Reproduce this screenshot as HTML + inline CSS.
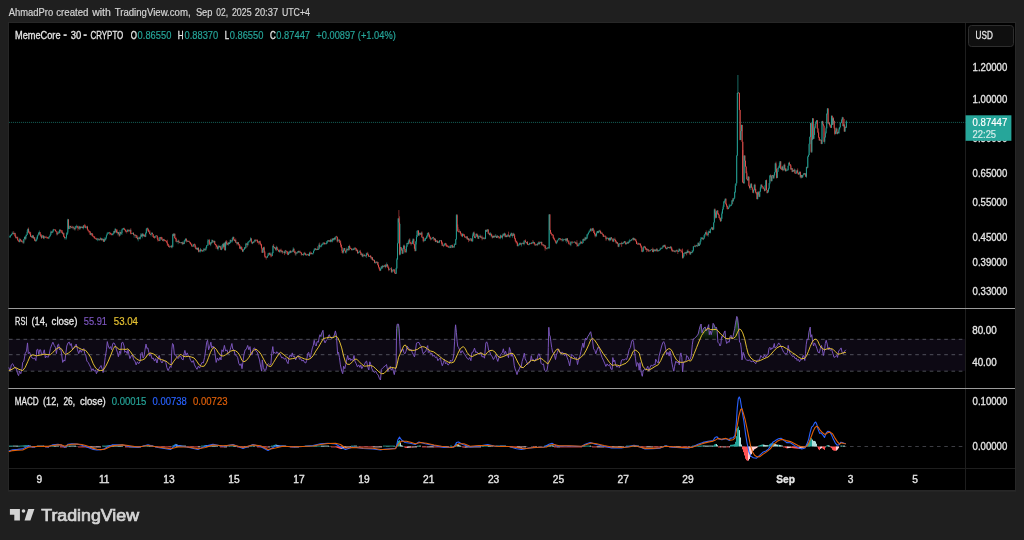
<!DOCTYPE html>
<html><head><meta charset="utf-8"><title>MemeCore chart</title>
<style>
html,body{margin:0;padding:0;background:#1f1f1f;}
body{width:1024px;height:540px;overflow:hidden;position:relative;font-family:"Liberation Sans", sans-serif;}
svg{position:absolute;left:0;top:0;}
text{font-family:"Liberation Sans", sans-serif;}
</style></head><body>
<svg width="1024" height="540" viewBox="0 0 1024 540">
<rect x="0" y="0" width="1024" height="540" fill="#1f1f1f"/>
<rect x="8" y="491" width="1008" height="1" fill="#242424"/>
<rect x="8.5" y="22.5" width="1007" height="468" fill="#000" stroke="#272727" stroke-width="1"/>

<text x="8.75" y="16.4" fill="#d6d6d6" stroke="#d6d6d6" stroke-width="0.18" font-size="10.2" text-anchor="start" font-weight="normal" textLength="44.4" lengthAdjust="spacingAndGlyphs">AhmadPro</text>
<text x="56.25" y="16.4" fill="#d6d6d6" stroke="#d6d6d6" stroke-width="0.18" font-size="10.2" text-anchor="start" font-weight="normal" textLength="32.2" lengthAdjust="spacingAndGlyphs">created</text>
<text x="92.2" y="16.4" fill="#d6d6d6" stroke="#d6d6d6" stroke-width="0.18" font-size="10.2" text-anchor="start" font-weight="normal" textLength="18.7" lengthAdjust="spacingAndGlyphs">with</text>
<text x="114.7" y="16.4" fill="#d6d6d6" stroke="#d6d6d6" stroke-width="0.18" font-size="10.2" text-anchor="start" font-weight="normal" textLength="75.9" lengthAdjust="spacingAndGlyphs">TradingView.com,</text>
<text x="195.9" y="16.4" fill="#d6d6d6" stroke="#d6d6d6" stroke-width="0.18" font-size="10.2" text-anchor="start" font-weight="normal" textLength="16.6" lengthAdjust="spacingAndGlyphs">Sep</text>
<text x="216.25" y="16.4" fill="#d6d6d6" stroke="#d6d6d6" stroke-width="0.18" font-size="10.2" text-anchor="start" font-weight="normal" textLength="11.8" lengthAdjust="spacingAndGlyphs">02,</text>
<text x="231.9" y="16.4" fill="#d6d6d6" stroke="#d6d6d6" stroke-width="0.18" font-size="10.2" text-anchor="start" font-weight="normal" textLength="19.7" lengthAdjust="spacingAndGlyphs">2025</text>
<text x="254.7" y="16.4" fill="#d6d6d6" stroke="#d6d6d6" stroke-width="0.18" font-size="10.2" text-anchor="start" font-weight="normal" textLength="23.4" lengthAdjust="spacingAndGlyphs">20:37</text>
<text x="281.9" y="16.4" fill="#d6d6d6" stroke="#d6d6d6" stroke-width="0.18" font-size="10.2" text-anchor="start" font-weight="normal" textLength="28.1" lengthAdjust="spacingAndGlyphs">UTC+4</text>
<rect x="965" y="23" width="1" height="467" fill="#1e1e1e"/>
<rect x="9" y="468" width="1006" height="1" fill="#1e1e1e"/>
<rect x="8.3" y="308" width="1006.7" height="1" fill="#9b9b9b"/>
<rect x="8.3" y="388" width="1006.7" height="1" fill="#9b9b9b"/>
<line x1="9" y1="122.4" x2="965.5" y2="122.4" stroke="#26a69a" stroke-width="0.9" opacity="0.06"/><line x1="9" y1="122.4" x2="965.5" y2="122.4" stroke="#26a69a" stroke-width="1" stroke-dasharray="1 1" opacity="0.5"/>
<path d="M737.9 75V94" stroke="#26a69a" stroke-width="0.9" opacity="0.7"/><path d="M742.8 150V183" stroke="#ef5350" stroke-width="0.8" opacity="0.8"/><path d="M12.98 232.72V233.21M13.66 231.23V234.61M15.02 232.78V236.60M15.69 234.66V238.39M17.05 236.82V238.76M17.72 236.67V240.48M18.40 239.81V241.52M19.08 240.51V242.27M20.43 238.92V241.25M21.11 240.10V241.80M21.79 239.67V242.32M23.14 240.55V243.59M25.17 236.60V240.31M28.56 227.54V232.55M29.23 230.86V233.68M29.91 232.08V234.70M30.59 231.80V236.94M31.94 235.97V238.16M33.29 235.44V238.61M34.65 236.97V240.81M35.33 239.52V241.39M40.06 232.04V235.54M40.74 234.17V236.94M41.42 234.40V238.90M43.45 235.47V239.00M44.80 236.21V237.40M45.48 236.72V237.70M46.16 235.84V237.48M46.83 237.16V238.62M47.51 237.18V238.43M48.19 236.67V238.54M51.57 231.33V232.67M54.28 229.38V230.15M54.96 229.49V230.58M55.64 229.58V231.43M56.31 231.00V232.13M56.99 231.53V235.46M59.02 232.45V233.53M60.37 229.34V230.70M61.05 229.78V232.77M61.73 231.52V232.78M62.41 230.18V233.98M63.76 232.65V236.97M64.44 236.06V238.50M68.50 219.31V229.39M70.53 225.98V227.25M71.21 225.71V228.27M72.56 225.88V228.36M73.91 226.62V228.56M74.59 228.11V230.31M77.30 225.98V227.69M77.98 225.59V230.65M78.65 227.46V228.64M80.01 226.51V229.70M81.36 226.52V227.69M82.72 226.52V228.25M84.07 225.30V226.25M84.75 223.89V227.93M85.42 225.16V228.00M87.45 225.81V229.83M88.13 229.41V231.37M88.81 230.67V232.65M89.49 230.73V232.40M90.16 231.45V234.78M91.52 233.22V234.82M92.19 232.94V236.08M92.87 234.25V236.95M93.55 235.87V236.75M94.22 236.33V238.39M94.90 236.58V238.82M95.58 237.99V238.65M96.26 237.75V239.64M98.29 238.64V239.69M99.64 239.01V240.45M100.99 237.80V239.46M101.67 238.26V240.67M103.70 239.10V241.91M105.06 238.98V240.68M109.80 231.85V234.84M110.47 232.94V234.02M111.15 233.02V235.31M111.83 234.05V235.28M114.53 230.76V232.93M115.89 228.92V230.76M116.57 230.23V233.13M117.24 229.43V233.39M118.60 232.01V234.16M119.27 233.78V236.82M120.63 231.88V234.24M124.01 227.57V229.23M124.69 228.58V230.24M125.37 229.57V232.34M126.04 229.76V232.08M126.72 230.86V233.43M128.07 229.77V230.65M128.75 229.56V232.18M130.78 228.30V234.33M131.46 232.92V234.08M133.49 232.40V235.23M134.84 234.23V235.91M136.20 234.85V238.17M137.55 235.58V239.60M139.58 237.49V239.14M141.61 234.54V236.52M142.97 233.59V236.17M144.32 234.15V236.71M145.00 235.56V237.17M147.71 227.59V230.92M148.38 228.76V232.43M149.74 230.11V234.26M150.42 233.71V234.92M152.45 232.49V234.38M153.12 234.19V237.07M153.80 235.85V237.87M154.48 236.07V238.57M156.51 235.58V236.08M157.19 235.33V238.96M157.86 237.30V241.51M158.54 239.65V240.46M159.22 239.76V241.18M160.57 236.98V239.40M161.25 236.78V238.95M161.92 237.16V240.01M162.60 239.65V241.00M163.96 238.78V241.36M164.63 239.67V241.01M165.31 239.95V241.17M165.99 240.01V241.73M166.66 241.08V242.73M167.34 239.76V245.70M168.02 243.79V245.52M168.69 244.53V246.99M169.37 245.60V247.54M171.40 244.89V248.06M173.43 233.31V236.28M174.79 233.59V238.47M175.46 237.84V239.06M176.14 237.53V241.74M177.50 240.95V241.89M178.85 240.67V242.38M179.53 242.23V243.07M180.88 242.44V243.14M182.23 242.20V244.61M183.59 242.24V244.09M186.30 238.46V242.55M187.65 240.13V241.77M189.00 240.48V241.98M189.68 241.60V242.90M190.36 242.13V244.26M191.04 243.86V244.53M191.71 243.25V246.84M193.07 245.03V246.54M194.42 243.46V245.07M195.10 243.87V247.58M195.77 245.97V249.36M197.13 247.88V249.76M198.48 247.43V252.31M199.84 250.43V251.65M201.19 249.51V251.00M201.87 250.32V251.45M203.22 249.73V250.94M204.58 248.65V249.93M205.25 249.10V250.70M209.31 238.94V244.80M209.99 243.67V244.70M211.35 242.10V244.19M212.70 240.09V241.82M213.38 241.55V242.20M214.73 240.84V244.56M215.41 243.84V245.28M216.08 244.20V248.84M216.76 244.73V247.26M217.44 246.34V249.42M219.47 245.75V247.24M220.82 245.94V250.02M223.53 243.38V248.47M224.89 242.47V250.50M226.24 240.03V245.55M226.92 241.11V244.71M227.59 243.08V244.72M228.95 242.16V244.17M230.98 240.06V241.33M233.69 236.68V240.26M234.36 239.31V240.94M235.72 238.53V242.88M237.07 241.76V245.33M238.43 242.29V245.27M239.10 243.99V245.67M239.78 244.86V248.79M241.13 246.01V250.28M241.81 247.12V249.85M242.49 249.16V251.91M245.20 247.24V248.98M246.55 243.46V244.75M247.23 243.00V247.25M251.29 238.19V242.29M251.97 242.03V243.62M253.32 241.80V243.10M255.35 239.17V242.09M256.70 239.34V240.35M257.38 239.43V243.12M258.06 241.07V242.66M258.74 241.33V244.59M260.09 240.59V244.60M260.77 243.00V245.60M261.44 244.00V248.68M262.12 247.76V252.84M264.15 246.57V252.83M264.83 250.95V257.64M265.51 256.52V257.33M266.18 255.98V259.54M269.57 252.64V255.35M270.92 252.74V257.32M271.60 255.56V256.66M273.63 244.07V247.37M274.31 246.98V248.79M275.66 247.39V250.48M277.01 246.61V248.69M277.69 248.44V250.10M278.37 249.83V251.50M279.05 250.39V252.18M280.40 249.59V250.93M281.08 248.68V252.81M282.43 250.32V253.72M284.46 251.27V255.10M285.82 249.92V251.19M286.49 251.07V251.75M287.17 251.47V254.13M287.85 250.91V255.25M289.20 252.28V254.09M290.55 250.35V253.03M292.59 250.13V251.41M293.94 248.53V252.02M294.62 251.43V253.12M295.29 250.79V255.37M296.65 252.54V253.75M298.68 250.55V252.45M300.03 250.60V253.21M300.71 251.75V252.83M301.39 252.47V255.63M302.74 253.77V255.15M304.77 251.80V253.61M305.45 253.22V255.34M306.13 253.67V255.52M308.16 253.62V254.77M308.83 254.26V255.94M310.19 251.29V254.82M311.54 252.21V254.40M315.60 248.03V250.12M316.28 249.13V250.19M317.63 246.26V249.95M319.67 242.60V248.21M323.73 242.64V243.86M324.40 242.27V244.54M325.76 243.03V244.27M328.47 240.27V241.81M329.82 240.09V241.67M331.17 238.49V242.23M333.21 238.60V240.07M334.56 237.37V239.40M336.59 235.77V237.45M337.27 236.78V242.47M339.30 239.09V242.84M339.98 240.81V242.77M340.65 240.41V246.73M341.33 244.44V247.99M342.01 247.14V252.93M342.68 250.70V253.58M344.71 248.02V250.78M345.39 250.51V252.79M347.42 248.67V250.06M348.10 248.37V250.72M349.45 244.75V250.29M350.13 246.36V248.91M350.81 247.87V249.07M351.48 248.58V250.41M353.52 248.44V249.77M354.87 247.62V248.66M355.55 247.44V249.60M356.22 248.22V251.41M357.58 249.43V253.70M360.29 249.84V253.29M360.96 252.05V255.15M362.32 253.64V256.53M364.35 253.97V256.30M365.70 255.15V256.44M367.73 251.87V255.12M368.41 254.07V256.80M369.09 256.00V256.70M370.44 255.01V257.30M371.12 255.84V259.08M372.47 256.99V260.17M373.15 259.30V260.75M374.50 260.08V263.01M375.86 261.98V262.90M376.53 261.28V262.94M377.89 261.92V265.63M378.56 264.54V267.49M379.24 266.91V269.46M379.92 268.05V271.14M381.95 265.81V267.64M383.30 265.57V267.29M385.33 264.02V268.30M387.37 264.11V266.89M388.04 265.23V268.08M388.72 267.10V271.17M391.43 267.09V272.70M392.78 269.92V270.53M394.14 269.05V271.90M394.81 269.53V273.69M395.49 273.14V274.02M398.87 210.04V222.64M399.55 216.34V255.37M400.91 246.87V248.66M401.58 247.56V250.86M402.26 249.66V254.05M404.29 244.71V249.23M404.97 249.00V253.20M405.64 250.86V252.24M407.68 242.96V244.06M409.71 238.29V244.07M410.38 242.03V243.49M411.06 241.81V245.50M413.77 238.60V244.60M414.45 243.95V249.05M415.12 247.52V251.54M418.51 230.40V235.66M419.86 232.66V234.06M420.54 233.32V234.87M421.89 231.38V237.53M423.25 236.50V242.32M425.95 237.85V238.69M428.66 232.02V236.49M429.34 234.44V237.16M430.02 236.46V239.11M430.69 236.63V240.41M433.40 236.78V238.25M434.08 237.86V241.05M435.43 238.76V242.06M436.79 240.12V241.38M437.46 240.41V243.08M438.82 241.33V242.80M440.17 240.59V241.41M441.53 239.96V244.08M442.20 241.70V246.18M443.56 244.91V247.17M445.59 242.82V245.45M446.26 243.25V246.83M446.94 245.15V246.79M447.62 244.87V246.63M448.30 245.73V247.92M450.33 246.34V247.95M451.68 244.90V245.44M452.36 244.55V247.68M453.71 246.34V247.57M455.07 243.94V244.72M457.10 214.15V227.68M457.77 224.50V231.48M458.45 231.28V232.07M459.13 229.27V233.02M460.48 231.22V233.93M461.16 232.82V235.79M461.84 235.13V236.50M463.19 233.70V234.61M463.87 233.98V236.05M464.54 234.51V237.57M465.22 236.20V237.70M465.90 237.10V238.26M467.25 236.28V240.01M468.61 238.25V242.15M469.28 239.16V240.56M471.31 238.13V241.44M474.02 231.44V236.64M474.70 236.06V237.99M476.73 233.74V236.12M477.41 233.74V237.34M478.08 236.54V238.93M479.44 235.98V236.51M480.79 235.33V237.77M482.15 235.55V240.28M484.18 236.91V239.53M486.21 229.33V231.85M488.24 229.45V233.73M489.59 232.81V235.10M490.95 233.29V234.61M491.62 234.21V236.79M492.30 235.53V238.55M493.65 235.37V237.56M495.01 234.85V237.13M496.36 235.93V238.00M497.72 235.59V237.56M498.39 236.23V237.58M499.07 236.71V238.81M499.75 236.48V238.47M501.10 235.36V236.65M501.78 235.68V237.82M503.81 233.43V235.88M505.16 233.40V237.39M506.52 234.84V237.30M508.55 231.68V236.71M509.23 235.32V236.99M511.93 233.15V236.20M513.96 233.60V236.08M514.64 234.37V239.10M515.32 237.98V242.09M516.00 240.67V243.34M516.67 240.65V243.49M517.35 242.51V246.28M520.73 242.80V244.89M522.77 242.55V243.54M523.44 242.53V244.24M524.80 240.57V240.92M525.47 239.43V242.13M526.15 241.88V243.45M527.50 241.07V245.06M528.18 243.81V245.04M530.21 242.76V244.09M530.89 243.37V244.22M532.92 240.08V243.85M534.27 242.01V244.38M534.95 243.12V245.91M536.31 243.89V244.59M536.98 244.00V246.12M539.01 241.03V245.11M540.37 242.27V243.00M541.72 241.79V245.41M542.40 244.42V245.70M543.75 244.36V246.90M545.11 245.23V250.67M545.78 246.43V248.60M546.46 248.26V249.28M548.49 247.40V248.26M549.85 214.17V230.24M550.52 229.94V233.80M551.20 232.45V234.33M551.88 233.99V236.01M552.55 234.20V235.27M553.23 234.46V238.42M553.91 237.10V239.40M554.58 238.46V240.35M555.26 240.09V241.99M555.94 240.72V243.46M560.00 238.12V240.63M560.68 238.67V239.63M562.03 238.73V241.44M564.74 238.91V239.71M566.09 238.52V240.85M567.45 237.98V241.89M568.12 240.49V241.57M568.80 240.34V244.49M569.48 243.69V243.97M570.16 243.53V245.22M571.51 241.76V242.20M572.19 240.94V243.80M574.89 241.44V242.84M575.57 242.24V244.10M576.93 240.18V246.74M577.60 244.43V246.16M579.63 243.06V243.70M580.99 241.29V243.15M581.66 241.52V243.58M583.70 238.45V241.06M584.37 239.25V240.40M585.73 237.30V239.44M591.14 227.96V229.77M591.82 229.39V231.76M593.17 227.82V229.94M593.85 229.69V233.18M594.53 231.40V234.68M595.20 232.86V237.36M597.91 230.89V233.05M599.94 229.70V232.45M600.62 230.80V233.85M601.97 232.26V234.15M602.65 233.74V235.25M603.33 233.98V236.96M604.68 235.69V236.56M605.36 235.39V237.50M606.04 236.53V240.82M608.74 237.92V240.70M610.10 237.91V240.36M611.45 237.10V238.74M612.13 238.45V239.51M612.81 239.03V241.74M614.84 237.63V241.74M615.51 239.56V241.67M616.19 240.41V243.68M617.55 242.09V244.09M618.22 243.57V247.12M620.25 243.05V244.71M621.61 241.72V246.80M622.96 242.32V243.30M624.99 240.96V243.00M625.67 242.41V244.62M627.70 241.82V243.68M629.05 241.85V242.49M630.41 240.26V241.13M632.44 238.31V239.14M633.79 237.65V240.79M635.15 238.36V239.69M635.82 238.98V241.60M636.50 240.76V244.09M637.18 243.43V244.19M637.86 242.24V244.93M639.21 243.03V245.11M639.89 243.41V244.97M640.56 243.18V246.46M641.24 245.49V248.23M641.92 246.74V252.07M644.63 245.85V247.78M645.30 246.58V249.73M645.98 248.00V249.87M646.66 248.19V252.17M648.01 248.90V251.50M648.69 249.33V251.94M650.04 250.39V251.63M652.07 248.80V249.87M652.75 247.61V252.13M654.10 249.36V250.98M654.78 249.12V251.57M656.81 247.99V251.60M658.17 250.22V251.72M661.55 247.54V248.42M663.58 244.90V246.95M664.94 244.46V247.51M665.61 246.15V248.51M666.29 248.17V249.38M667.64 246.58V248.21M669.00 246.92V247.87M669.67 247.08V248.47M671.03 246.07V247.99M671.71 247.19V251.28M672.38 249.27V252.02M673.74 250.39V252.04M674.41 250.60V251.69M675.77 250.50V252.15M677.12 249.60V251.44M677.80 250.66V254.04M679.83 248.83V251.17M680.51 250.47V251.06M681.18 250.28V252.93M681.86 249.25V251.76M682.54 248.54V258.57M685.25 252.24V253.60M686.60 252.06V255.35M687.95 249.34V253.32M689.31 251.59V252.80M689.98 251.02V255.02M691.34 251.83V252.95M694.72 244.76V246.76M696.75 244.72V246.37M698.79 242.70V245.82M702.85 237.76V239.81M706.23 230.36V235.83M706.91 234.06V234.82M707.59 232.54V235.92M709.62 231.16V232.95M712.33 227.29V230.08M715.03 208.54V213.24M715.71 212.29V218.64M717.74 210.30V214.72M718.42 213.01V215.16M719.10 214.54V218.31M719.77 217.20V220.10M720.45 217.81V221.97M725.87 198.50V204.72M726.54 203.42V206.82M727.22 205.65V209.27M727.90 208.58V209.26M732.64 198.32V204.36M738.73 92.34V93.28M739.41 92.84V110.08M740.08 109.83V140.28M742.11 124.86V141.83M742.79 141.72V182.25M743.47 181.80V183.39M744.82 155.41V160.88M745.50 160.59V166.70M746.18 166.36V173.30M746.85 171.42V179.40M747.53 179.10V180.43M748.88 176.53V186.54M749.56 185.57V188.79M751.59 183.42V187.80M752.27 186.71V190.23M752.95 189.13V193.06M754.98 183.70V190.18M755.65 188.73V193.29M756.33 192.32V194.40M757.01 192.60V199.30M758.36 191.15V194.66M759.04 194.10V197.03M761.75 184.57V187.11M762.42 186.12V187.12M763.10 186.44V188.94M763.78 188.52V189.34M764.45 188.35V191.44M766.49 179.54V190.04M767.16 189.77V193.57M770.55 174.41V177.40M771.22 176.21V181.24M772.58 175.26V176.04M773.26 175.14V178.82M775.96 161.68V171.70M776.64 168.55V178.52M780.70 161.21V169.12M781.38 168.23V170.06M782.73 165.68V171.23M784.76 163.46V169.86M785.44 168.40V171.27M786.80 169.04V170.19M789.50 161.70V164.81M790.18 164.15V166.05M790.86 164.62V169.83M792.21 168.16V172.20M793.57 169.88V171.78M794.92 169.46V173.91M795.60 172.86V173.57M797.63 168.46V173.68M798.30 172.62V174.62M800.34 171.71V177.96M801.69 174.79V178.10M804.40 172.99V174.35M805.75 173.44V176.88M807.11 166.93V168.71M811.17 122.83V152.80M813.20 118.33V139.40M817.26 120.01V128.69M817.94 128.17V132.73M818.61 131.65V137.99M819.29 136.96V140.60M820.65 139.40V140.20M821.32 139.89V144.16M822.68 120.77V124.62M823.35 123.47V126.31M824.03 125.53V142.18M828.09 108.34V123.84M829.45 122.08V125.28M830.12 124.02V127.26M830.80 125.67V127.75M832.15 115.40V125.00M833.51 117.22V123.59M834.19 120.73V128.75M834.86 127.73V135.19M836.89 128.39V134.20M838.25 131.45V133.19M842.99 116.98V126.24M844.34 118.90V131.70M845.69 126.30V127.99" stroke="#ef5350" fill="none" stroke-width="0.7" opacity="0.75"/><path d="M9.60 236.43V237.66M10.28 234.58V238.04M10.95 235.06V235.85M11.63 234.01V235.57M12.31 231.52V234.47M14.34 232.67V233.82M16.37 236.80V238.17M19.75 237.87V242.38M22.46 241.78V242.37M23.82 238.81V243.68M24.49 236.50V239.28M25.85 234.57V239.62M26.52 234.67V236.30M27.20 230.05V235.18M27.88 228.39V232.65M31.26 235.55V236.87M32.62 235.15V237.69M33.97 237.19V238.57M36.00 239.55V241.70M36.68 237.17V241.00M37.36 235.42V239.56M38.03 234.38V236.35M38.71 232.09V234.80M39.39 230.56V234.18M42.10 235.27V237.88M42.77 235.03V236.32M44.13 235.72V239.23M48.87 236.84V239.08M49.54 235.75V237.21M50.22 233.94V236.54M50.90 230.60V234.81M52.25 231.19V233.19M52.93 229.39V232.90M53.60 228.84V231.17M57.67 233.23V234.60M58.34 230.98V233.64M59.70 229.04V233.30M63.08 232.56V234.99M65.11 237.68V239.70M65.79 236.98V238.40M66.47 232.92V239.46M67.14 231.98V235.20M67.82 218.79V233.80M69.18 227.88V228.90M69.85 225.45V228.83M71.88 227.60V227.84M73.24 226.34V229.61M75.27 225.90V230.36M75.95 225.88V228.42M76.62 224.68V227.42M79.33 225.88V229.63M80.68 226.65V228.48M82.04 226.83V227.93M83.39 225.20V229.39M86.10 227.09V228.73M86.78 226.01V227.83M90.84 233.01V235.34M96.93 238.40V240.27M97.61 238.18V241.21M98.96 238.56V240.94M100.32 237.42V240.29M102.35 238.40V240.19M103.03 238.56V241.38M104.38 237.38V241.84M105.73 237.52V240.58M106.41 235.11V238.79M107.09 232.61V235.41M107.76 231.95V233.96M108.44 232.45V233.75M109.12 232.26V232.81M112.50 233.25V235.20M113.18 233.02V235.25M113.86 230.87V233.92M115.21 227.94V232.68M117.92 231.63V235.36M119.95 230.10V235.67M121.30 232.31V234.33M121.98 228.54V234.97M122.66 228.35V229.83M123.34 227.97V229.98M127.40 229.56V231.87M129.43 229.85V231.17M130.11 229.46V231.74M132.14 233.44V234.03M132.81 232.67V233.88M134.17 234.75V237.67M135.52 234.70V236.08M136.88 237.29V238.36M138.23 237.78V241.33M138.91 236.66V239.30M140.26 236.46V239.55M140.94 233.08V237.06M142.29 233.38V238.31M143.65 234.48V236.57M145.68 232.22V237.07M146.35 228.13V233.50M147.03 227.74V229.52M149.06 231.30V232.10M151.09 233.84V236.43M151.77 232.12V234.45M155.15 236.20V237.88M155.83 235.32V236.51M159.89 236.93V241.03M163.28 239.09V241.42M170.05 246.18V247.34M170.73 245.72V246.84M172.08 245.46V248.35M172.76 233.79V247.33M174.11 233.56V235.97M176.82 241.27V242.67M178.17 239.51V244.18M180.20 242.29V243.41M181.56 242.12V243.04M182.91 241.21V245.17M184.27 240.21V244.14M184.94 239.33V241.64M185.62 238.34V240.92M186.97 240.98V241.57M188.33 240.94V241.98M192.39 245.95V246.98M193.74 244.09V246.63M196.45 247.47V249.28M197.81 247.62V250.31M199.16 249.26V252.38M200.51 247.93V252.43M202.54 250.23V251.53M203.90 248.01V252.07M205.93 246.88V250.71M206.61 245.34V248.54M207.28 244.85V245.48M207.96 239.00V246.01M208.64 240.06V241.45M210.67 241.99V246.17M212.02 239.37V243.17M214.05 240.33V242.80M218.12 246.13V250.46M218.79 244.78V247.90M220.15 245.66V248.03M221.50 248.20V250.22M222.18 244.95V249.41M222.85 243.59V245.88M224.21 242.36V246.92M225.56 241.46V250.44M228.27 242.42V245.70M229.62 241.87V244.13M230.30 239.42V243.18M231.66 240.65V242.45M232.33 237.83V242.42M233.01 236.49V238.55M235.04 239.69V241.56M236.39 242.27V243.28M237.75 242.28V244.13M240.46 246.62V248.98M243.16 249.16V252.15M243.84 248.75V250.24M244.52 247.15V249.76M245.87 242.80V248.46M247.90 241.61V245.83M248.58 241.41V242.67M249.26 240.75V242.38M249.93 239.92V241.30M250.61 237.30V240.54M252.64 241.70V244.22M254.00 240.90V242.61M254.67 239.40V241.38M256.03 240.10V241.06M259.41 241.27V242.47M262.80 248.99V252.86M263.47 246.96V250.18M266.86 257.24V257.88M267.54 255.62V257.56M268.21 253.14V256.21M268.89 252.62V253.67M270.24 252.49V254.74M272.28 252.01V256.17M272.95 245.31V253.34M274.98 247.78V248.73M276.34 245.75V251.17M279.72 249.27V252.75M281.75 250.93V252.00M283.11 252.02V253.16M283.78 251.59V252.22M285.14 250.47V254.05M288.52 251.82V254.97M289.88 250.67V253.50M291.23 251.86V252.50M291.91 250.61V252.40M293.26 247.27V252.29M295.97 252.26V255.54M297.32 252.30V253.48M298.00 250.99V253.02M299.36 251.06V252.47M302.06 253.95V254.70M303.42 253.91V256.06M304.09 252.42V255.06M306.80 254.40V255.70M307.48 254.04V255.25M309.51 252.55V256.20M310.86 253.14V253.96M312.22 253.08V254.29M312.90 252.93V254.77M313.57 250.70V253.27M314.25 248.46V251.31M314.93 248.05V249.99M316.96 248.45V250.19M318.31 248.42V249.90M318.99 243.45V249.41M320.34 246.44V247.01M321.02 245.06V247.44M321.70 243.68V246.70M322.37 244.07V245.00M323.05 242.65V245.12M325.08 242.83V244.29M326.44 241.33V244.33M327.11 240.90V243.57M327.79 240.18V242.15M329.14 240.32V242.09M330.50 239.43V242.26M331.85 240.24V241.72M332.53 238.25V242.27M333.88 237.99V241.23M335.24 236.71V240.12M335.91 236.31V237.39M337.94 238.56V241.37M338.62 239.82V240.30M343.36 249.50V253.53M344.04 248.04V250.65M346.07 251.45V253.70M346.75 247.60V251.87M348.78 245.90V250.49M352.16 248.47V250.17M352.84 249.00V250.55M354.19 247.77V249.98M356.90 249.47V251.16M358.25 251.57V253.60M358.93 251.95V252.83M359.61 250.53V252.20M361.64 253.26V255.61M362.99 253.29V257.32M363.67 254.71V255.90M365.02 255.42V256.53M366.38 252.67V257.93M367.06 253.09V254.19M369.76 255.61V256.93M371.79 257.31V259.90M373.83 259.16V260.46M375.18 261.15V263.98M377.21 261.21V264.07M380.60 268.51V270.72M381.27 266.36V269.25M382.63 265.10V268.87M383.98 266.32V266.73M384.66 264.93V266.54M386.01 266.11V267.33M386.69 262.51V266.31M389.40 269.17V270.24M390.07 268.50V269.35M390.75 268.46V269.08M392.10 268.86V272.85M393.46 269.44V270.40M396.17 267.70V273.84M396.84 258.08V269.00M397.52 242.80V259.90M398.20 218.17V243.40M400.23 223.90V255.20M402.94 247.91V253.85M403.61 244.82V249.00M406.32 245.60V252.87M407.00 242.80V247.14M408.35 241.07V244.57M409.03 239.57V241.55M411.74 243.66V244.11M412.41 240.51V243.96M413.09 238.34V241.57M415.80 240.94V251.13M416.48 235.05V244.39M417.15 230.66V237.21M417.83 230.12V231.41M419.18 232.48V235.77M421.22 232.55V234.47M422.57 237.03V238.32M423.92 240.72V241.75M424.60 238.77V241.13M425.28 237.58V240.83M426.63 235.76V238.87M427.31 233.26V237.71M427.99 232.57V235.18M431.37 238.36V239.60M432.05 238.19V239.36M432.72 237.03V238.59M434.76 237.90V240.11M436.11 240.10V242.34M438.14 241.54V243.11M439.49 240.08V243.15M440.85 240.19V241.07M442.88 244.61V245.82M444.23 243.59V246.21M444.91 243.22V245.01M448.97 246.74V247.52M449.65 245.58V248.18M451.00 245.06V248.19M453.03 245.94V247.57M454.39 243.29V247.89M455.74 239.02V244.89M456.42 214.21V239.82M459.80 230.62V231.83M462.51 233.46V237.16M466.57 236.31V238.67M467.93 238.27V239.94M469.96 238.33V240.64M470.64 238.43V239.02M471.99 240.80V241.60M472.67 233.64V242.08M473.34 232.20V235.80M475.38 236.84V238.48M476.05 233.59V237.04M478.76 234.82V238.82M480.11 234.54V237.11M481.47 236.91V238.08M482.82 238.42V239.10M483.50 237.28V238.81M484.85 238.39V239.13M485.53 229.75V239.17M486.88 229.67V232.03M487.56 229.37V231.49M488.92 233.31V234.60M490.27 232.00V236.42M492.98 235.87V237.84M494.33 235.85V237.69M495.69 234.16V236.90M497.04 235.28V238.06M500.42 234.66V239.20M502.46 234.65V239.28M503.13 233.26V236.54M504.49 232.60V235.79M505.84 235.81V237.06M507.19 234.89V237.08M507.87 234.24V235.71M509.90 235.63V238.03M510.58 233.82V236.02M511.26 232.46V235.05M512.61 234.50V237.78M513.29 232.72V235.66M518.03 244.82V246.62M518.70 244.46V245.36M519.38 242.97V245.47M520.06 242.37V244.06M521.41 243.20V246.50M522.09 242.70V244.27M524.12 240.54V245.32M526.83 242.13V244.13M528.86 244.02V245.48M529.54 242.68V244.84M531.57 242.05V243.98M532.24 242.21V243.42M533.60 241.34V243.11M535.63 244.17V245.89M537.66 243.22V245.58M538.34 242.26V243.93M539.69 242.40V244.22M541.04 241.25V243.17M543.08 244.07V244.84M544.43 245.07V246.04M547.14 247.62V249.37M547.81 247.09V248.21M549.17 214.27V249.02M556.62 242.11V244.17M557.29 240.08V242.63M557.97 239.51V240.63M558.65 237.76V240.11M559.32 238.13V239.02M561.35 238.92V240.05M562.71 238.28V241.26M563.39 239.31V241.37M564.06 239.27V239.99M565.42 238.54V241.50M566.77 238.25V243.19M570.83 241.19V246.20M572.86 241.85V242.62M573.54 242.10V242.61M574.22 241.66V242.38M576.25 242.60V244.12M578.28 244.98V246.62M578.96 243.38V246.04M580.31 240.62V244.41M582.34 242.44V243.83M583.02 238.87V243.16M585.05 236.71V240.69M586.40 237.17V239.39M587.08 234.26V238.77M587.76 233.40V236.35M588.43 232.39V234.63M589.11 230.44V232.73M589.79 229.52V231.94M590.47 228.40V231.12M592.50 228.06V230.74M595.88 234.48V236.38M596.56 232.24V236.75M597.24 230.99V233.23M598.59 230.68V233.26M599.27 230.12V232.10M601.30 232.53V233.86M604.01 235.18V236.79M606.71 238.43V239.23M607.39 237.26V238.82M608.07 237.70V238.61M609.42 237.39V241.31M610.78 237.43V240.77M613.48 238.13V242.14M614.16 239.06V239.58M616.87 241.77V243.24M618.90 243.64V247.17M619.58 243.27V244.28M620.93 243.25V244.07M622.28 242.83V244.29M623.64 242.41V243.61M624.32 241.12V243.25M626.35 242.83V244.33M627.02 241.70V243.84M628.38 240.61V243.59M629.73 238.84V242.35M631.09 240.03V241.05M631.76 238.97V240.76M633.12 237.54V239.50M634.47 238.32V240.22M638.53 243.14V244.57M642.59 250.09V252.26M643.27 246.97V251.73M643.95 245.91V248.05M647.33 248.67V250.46M649.36 250.43V251.52M650.72 249.65V250.73M651.40 249.18V249.98M653.43 248.73V252.38M655.46 249.66V251.26M656.13 249.03V249.88M657.49 248.78V251.45M658.84 249.89V251.36M659.52 249.64V250.86M660.20 247.61V250.30M660.87 247.72V249.51M662.23 247.59V248.88M662.90 245.20V247.68M664.26 244.89V246.51M666.97 247.28V249.41M668.32 246.93V248.17M670.35 246.11V249.07M673.06 249.84V251.56M675.09 250.42V252.55M676.44 249.80V251.21M678.48 250.43V252.02M679.15 248.17V251.92M683.21 255.31V258.44M683.89 252.95V256.99M684.57 252.46V253.52M685.92 251.76V253.79M687.28 250.17V253.10M688.63 251.34V252.44M690.66 252.03V255.02M692.02 250.22V253.31M692.69 250.48V252.49M693.37 246.23V251.31M694.05 246.16V246.57M695.40 245.63V247.30M696.08 245.33V246.51M697.43 245.39V246.84M698.11 242.52V246.21M699.46 243.88V245.90M700.14 241.18V244.75M700.82 237.02V242.29M701.49 237.42V239.11M702.17 237.09V239.46M703.52 238.28V240.12M704.20 235.15V238.77M704.88 233.56V236.87M705.56 232.14V234.37M708.26 230.55V236.76M708.94 230.95V233.05M710.29 228.61V233.43M710.97 228.77V229.40M711.65 226.87V228.93M713.00 228.83V230.22M713.68 222.23V229.67M714.36 208.69V222.51M716.39 210.93V217.90M717.06 210.35V211.42M721.13 217.24V221.52M721.80 211.56V219.10M722.48 208.88V213.75M723.16 205.34V210.11M723.83 201.04V206.94M724.51 200.48V202.97M725.19 198.68V200.80M728.57 207.20V209.03M729.25 203.82V207.48M729.93 204.91V206.25M730.60 205.35V206.47M731.28 204.11V205.92M731.96 200.20V204.17M733.31 198.07V201.61M733.99 197.79V199.63M734.67 191.61V198.75M735.34 184.01V193.11M736.02 183.04V185.81M736.70 155.16V183.48M737.37 92.94V155.78M738.05 92.48V93.23M740.76 130.95V140.05M741.44 124.71V131.08M744.14 155.55V184.00M748.21 176.11V181.13M750.24 185.18V190.05M750.91 183.30V187.21M753.62 189.77V193.30M754.30 184.34V190.71M757.68 191.49V199.38M759.72 191.10V197.28M760.39 186.89V192.06M761.07 184.40V188.73M765.13 185.02V190.99M765.81 180.00V185.63M767.84 191.45V193.01M768.52 187.88V191.83M769.19 182.95V189.26M769.87 175.29V184.28M771.90 175.00V181.22M773.93 174.47V178.94M774.61 171.94V176.25M775.29 162.80V172.48M777.32 171.01V178.02M777.99 167.50V171.92M778.67 166.13V168.99M779.35 162.78V167.94M780.03 160.97V165.68M782.06 166.36V169.82M783.41 168.97V170.49M784.09 164.40V170.79M786.12 168.02V171.28M787.47 169.75V170.81M788.15 165.76V170.65M788.83 162.33V166.00M791.53 167.96V169.46M792.89 169.78V171.94M794.24 168.49V171.42M796.27 170.89V173.99M796.95 169.87V171.66M798.98 172.50V174.59M799.66 171.68V174.42M801.01 175.02V178.62M802.37 174.95V177.66M803.04 174.80V177.28M803.72 173.17V175.36M805.07 173.12V175.27M806.43 166.62V177.83M807.78 155.84V167.86M808.46 154.63V156.99M809.14 143.51V155.37M809.81 136.42V144.28M810.49 122.80V137.30M811.84 138.06V152.91M812.52 118.08V140.12M813.88 134.55V139.02M814.55 126.45V135.03M815.23 123.48V128.45M815.91 120.97V124.22M816.58 120.31V122.74M819.97 139.51V140.92M822.00 120.94V144.15M824.71 137.20V143.72M825.38 131.39V137.73M826.06 127.32V133.78M826.74 113.52V128.55M827.42 108.24V114.63M828.77 122.14V124.08M831.48 115.48V127.92M832.83 118.01V125.02M835.54 130.71V133.93M836.22 127.40V131.51M837.57 131.92V134.32M838.92 127.75V134.02M839.60 126.87V129.61M840.28 122.66V127.54M840.96 122.09V122.99M841.63 119.23V123.32M842.31 116.76V119.65M843.66 123.82V126.82M845.02 127.05V131.79M846.37 120.13V127.78" stroke="#26a69a" fill="none" stroke-width="0.7" opacity="0.75"/><path d="M12.98 232.94V233.29M13.66 233.01V233.77M15.02 233.03V236.18M15.69 236.18V237.53M17.05 237.01V238.38M17.72 238.38V240.34M18.40 240.34V240.73M19.08 240.73V241.89M20.43 239.28V240.45M21.11 240.45V241.24M21.79 241.24V241.96M23.14 241.81V242.50M25.17 237.06V238.68M28.56 229.01V232.45M29.23 232.45V232.80M29.91 232.53V233.81M30.59 233.81V236.54M31.94 236.09V237.53M33.29 235.47V238.25M34.65 237.52V240.52M35.33 240.52V241.16M40.06 232.25V234.81M40.74 234.81V235.75M41.42 235.75V237.74M43.45 235.78V238.12M44.80 236.79V237.14M45.48 236.99V237.34M46.16 237.23V237.58M46.83 237.48V237.83M47.51 237.68V238.08M48.19 238.08V238.43M51.57 231.77V232.62M54.28 229.53V229.88M54.96 229.69V230.04M55.64 229.75V231.33M56.31 231.33V231.82M56.99 231.82V234.31M59.02 232.72V233.07M60.37 229.99V230.34M61.05 230.09V231.58M61.73 231.58V232.33M62.41 232.33V233.47M63.76 233.21V236.71M64.44 236.71V238.00M68.50 219.43V228.84M70.53 225.99V227.01M71.21 227.01V227.82M72.56 227.71V228.06M73.91 227.42V228.19M74.59 228.19V228.92M77.30 226.28V226.63M77.98 226.38V228.16M78.65 228.16V228.51M80.01 226.61V228.20M81.36 226.81V227.44M82.72 226.90V228.16M84.07 225.70V226.05M84.75 225.76V226.48M85.42 226.48V227.65M87.45 226.66V229.61M88.13 229.61V230.87M88.81 230.87V231.22M89.49 231.04V231.48M90.16 231.48V234.66M91.52 233.28V233.63M92.19 233.47V235.93M92.87 235.93V236.28M93.55 236.23V236.58M94.22 236.52V238.10M94.90 238.10V238.45M95.58 238.30V238.65M96.26 238.52V239.64M98.29 238.74V239.60M99.64 239.08V239.68M100.99 238.34V238.85M101.67 238.85V240.12M103.70 239.14V241.67M105.06 239.40V239.75M109.80 232.43V233.44M110.47 233.44V233.79M111.15 233.62V234.64M111.83 234.64V234.99M114.53 231.17V232.39M115.89 228.98V230.42M116.57 230.42V232.23M117.24 232.23V233.14M118.60 232.15V234.12M119.27 234.12V235.57M120.63 232.05V233.52M124.01 228.23V228.93M124.69 228.93V230.03M125.37 230.03V230.86M126.04 230.86V231.21M126.72 231.02V231.73M128.07 229.80V230.20M128.75 230.20V231.15M130.78 229.86V233.74M131.46 233.74V234.09M133.49 232.83V234.84M134.84 234.77V235.40M136.20 235.07V237.94M137.55 237.73V239.09M139.58 237.59V238.70M141.61 234.63V236.44M142.97 233.70V235.82M144.32 234.88V235.96M145.00 235.96V236.67M147.71 228.38V229.51M148.38 229.51V231.75M149.74 231.58V234.04M150.42 234.04V234.53M152.45 233.11V234.21M153.12 234.21V236.86M153.80 236.86V237.72M154.48 237.72V238.07M156.51 235.69V236.04M157.19 235.92V237.63M157.86 237.63V240.12M158.54 240.12V240.47M159.22 240.36V240.74M160.57 237.11V237.52M161.25 237.52V237.87M161.92 237.52V239.69M162.60 239.69V240.50M163.96 239.28V240.12M164.63 240.12V240.50M165.31 240.50V240.96M165.99 240.96V241.31M166.66 241.23V242.47M167.34 242.47V243.85M168.02 243.85V245.46M168.69 245.46V246.78M169.37 246.78V247.23M171.40 246.18V247.05M173.43 234.40V235.67M174.79 233.77V238.13M175.46 238.13V238.71M176.14 238.71V241.72M177.50 241.42V241.77M178.85 240.69V242.27M179.53 242.27V242.78M180.88 242.47V242.86M182.23 242.22V243.92M183.59 243.09V243.82M186.30 238.74V241.26M187.65 241.12V241.66M189.00 241.31V241.90M189.68 241.90V242.38M190.36 242.38V244.18M191.04 244.18V244.53M191.71 244.24V246.11M193.07 245.98V246.33M194.42 244.22V244.75M195.10 244.75V247.41M195.77 247.41V248.73M197.13 248.02V249.65M198.48 247.81V251.58M199.84 250.56V251.14M201.19 249.53V250.74M201.87 250.74V251.38M203.22 250.37V250.72M204.58 248.92V249.42M205.25 249.42V249.83M209.31 240.21V243.92M209.99 243.92V244.54M211.35 242.55V243.06M212.70 240.17V241.60M213.38 241.60V242.16M214.73 241.04V243.90M215.41 243.90V244.98M216.08 244.98V245.49M216.76 245.49V246.77M217.44 246.77V248.87M219.47 246.14V247.09M220.82 246.56V249.59M223.53 243.92V246.74M224.89 243.25V250.19M226.24 241.69V243.29M226.92 243.29V243.95M227.59 243.95V244.50M228.95 242.76V243.92M230.98 240.16V241.26M233.69 237.10V239.45M234.36 239.45V240.75M235.72 240.12V242.54M237.07 242.46V243.72M238.43 242.32V244.07M239.10 244.07V245.38M239.78 245.38V248.59M241.13 246.94V247.35M241.81 247.35V249.45M242.49 249.45V251.38M245.20 247.47V247.83M246.55 243.73V244.17M247.23 244.17V244.96M251.29 238.50V242.21M251.97 242.21V243.41M253.32 241.89V242.51M255.35 240.25V240.74M256.70 240.15V240.50M257.38 240.17V241.72M258.06 241.72V242.26M258.74 242.26V242.61M260.09 241.37V244.19M260.77 244.19V244.54M261.44 244.52V247.84M262.12 247.84V252.69M264.15 247.44V252.29M264.83 252.29V256.57M265.51 256.57V257.24M266.18 257.24V257.76M269.57 253.11V254.54M270.92 254.02V255.73M271.60 255.73V256.08M273.63 245.86V247.10M274.31 247.10V248.01M275.66 247.90V249.62M277.01 247.20V248.67M277.69 248.67V249.86M278.37 249.86V251.07M279.05 251.07V252.04M280.40 249.95V250.30M281.08 250.09V251.66M282.43 251.21V252.20M284.46 251.81V253.07M285.82 250.55V251.12M286.49 251.12V251.65M287.17 251.65V253.73M287.85 253.73V254.71M289.20 252.68V253.03M290.55 250.91V252.37M292.59 250.93V251.28M293.94 248.76V251.66M294.62 251.66V252.49M295.29 252.49V253.42M296.65 252.63V253.19M298.68 251.14V252.20M300.03 251.71V252.23M300.71 252.23V252.65M301.39 252.65V254.46M302.74 254.06V254.85M304.77 252.93V253.61M305.45 253.61V254.66M306.13 254.66V255.18M308.16 254.09V254.44M308.83 254.30V255.82M310.19 252.63V253.71M311.54 253.17V254.04M315.60 248.81V249.37M316.28 249.37V249.89M317.63 248.98V249.77M319.67 244.84V246.80M323.73 242.71V243.06M324.40 242.94V244.14M325.76 243.70V244.06M328.47 240.38V240.79M329.82 240.50V241.54M331.17 239.76V241.34M333.21 238.75V239.71M334.56 238.02V239.34M336.59 236.59V236.94M337.27 236.78V241.36M339.30 240.09V241.27M339.98 241.27V242.66M340.65 242.66V244.94M341.33 244.94V247.59M342.01 247.59V250.84M342.68 250.84V252.46M344.71 248.07V250.63M345.39 250.63V252.52M347.42 249.19V249.76M348.10 249.76V250.11M349.45 246.06V247.85M350.13 247.85V248.20M350.81 248.12V248.84M351.48 248.84V249.80M353.52 249.12V249.66M354.87 247.82V248.17M355.55 248.07V248.47M356.22 248.47V250.77M357.58 250.14V253.17M360.29 251.46V252.81M360.96 252.81V254.91M362.32 254.18V256.52M364.35 255.07V255.96M365.70 255.93V256.28M367.73 253.40V254.73M368.41 254.73V256.26M369.09 256.26V256.65M370.44 255.89V256.90M371.12 256.90V258.19M372.47 257.43V259.81M373.15 259.81V260.38M374.50 260.19V262.69M375.86 262.15V262.50M376.53 262.29V262.64M377.89 262.02V265.00M378.56 265.00V267.32M379.24 267.32V268.73M379.92 268.73V270.60M381.95 266.62V267.43M383.30 265.82V266.73M385.33 265.31V266.85M387.37 264.45V266.38M388.04 266.38V267.80M388.72 267.80V269.78M391.43 268.55V271.79M392.78 270.18V270.53M394.14 269.61V271.80M394.81 271.80V273.22M395.49 273.22V273.78M398.87 218.52V222.39M399.55 222.39V254.44M400.91 247.01V248.51M401.58 248.51V249.82M402.26 249.82V253.47M404.29 245.81V249.04M404.97 249.04V251.67M405.64 251.67V252.02M407.68 243.19V243.91M409.71 239.64V242.52M410.38 242.52V242.87M411.06 242.69V244.10M413.77 239.17V244.29M414.45 244.29V248.55M415.12 248.55V250.88M418.51 230.60V235.36M419.86 233.14V233.64M420.54 233.64V234.45M421.89 232.64V237.39M423.25 237.20V240.98M425.95 238.13V238.48M428.66 232.87V234.60M429.34 234.60V237.10M430.02 237.10V238.36M430.69 238.36V239.23M433.40 237.30V238.07M434.08 238.07V239.75M435.43 238.80V241.93M436.79 240.85V241.20M437.46 241.08V242.69M438.82 241.69V242.31M440.17 240.64V240.99M441.53 240.53V242.60M442.20 242.60V245.60M443.56 245.37V245.72M445.59 243.49V244.41M446.26 244.41V245.99M446.94 245.99V246.34M447.62 246.04V246.39M448.30 246.28V247.30M450.33 246.84V247.62M451.68 245.07V245.42M452.36 245.36V247.48M453.71 246.35V246.70M455.07 244.35V244.70M457.10 215.18V227.19M457.77 227.19V231.43M458.45 231.43V231.78M459.13 231.56V231.91M460.48 231.53V233.45M461.16 233.45V235.29M461.84 235.29V236.33M463.19 233.89V234.34M463.87 234.34V235.72M464.54 235.72V236.62M465.22 236.62V237.15M465.90 237.15V237.61M467.25 236.59V239.03M468.61 238.48V240.03M469.28 240.03V240.39M471.31 238.77V241.06M474.02 232.62V236.17M474.70 236.17V237.91M476.73 233.81V234.98M477.41 234.98V236.82M478.08 236.82V238.59M479.44 236.06V236.47M480.79 235.99V237.69M482.15 237.36V238.69M484.18 238.43V239.02M486.21 230.17V231.50M488.24 229.49V233.63M489.59 233.40V235.08M490.95 233.55V234.39M491.62 234.39V236.20M492.30 236.20V237.62M493.65 236.03V237.23M495.01 236.29V236.81M496.36 236.52V237.91M497.72 235.79V236.37M498.39 236.37V237.03M499.07 237.03V237.44M499.75 237.44V237.93M501.10 235.56V236.39M501.78 236.39V237.51M503.81 234.28V234.92M505.16 233.63V236.79M506.52 236.06V236.82M508.55 234.85V235.42M509.23 235.42V236.69M511.93 233.22V236.09M513.96 233.73V235.74M514.64 235.74V238.47M515.32 238.47V240.97M516.00 240.97V241.42M516.67 241.42V242.52M517.35 242.52V245.89M520.73 243.36V244.46M522.77 243.14V243.49M523.44 243.33V244.08M524.80 240.66V241.01M525.47 240.72V241.92M526.15 241.92V242.90M527.50 242.22V244.33M528.18 244.33V244.75M530.21 243.31V243.77M530.89 243.77V244.12M532.92 242.56V243.07M534.27 242.16V244.29M534.95 244.29V244.64M536.31 244.18V244.53M536.98 244.40V244.95M539.01 242.62V243.94M540.37 242.42V242.77M541.72 242.00V244.49M542.40 244.49V244.84M543.75 244.71V245.74M545.11 245.36V248.14M545.78 248.14V248.49M546.46 248.42V248.78M548.49 247.74V248.19M549.85 214.50V230.05M550.52 230.05V232.71M551.20 232.71V234.05M551.88 234.05V234.79M552.55 234.79V235.18M553.23 235.18V237.92M553.91 237.92V239.35M554.58 239.35V240.33M555.26 240.33V240.87M555.94 240.87V243.25M560.00 238.31V239.28M560.68 239.28V239.63M562.03 239.50V240.29M564.74 239.34V239.69M566.09 238.86V240.50M567.45 238.55V240.77M568.12 240.77V241.48M568.80 241.48V243.77M569.48 243.77V244.12M570.16 243.93V244.49M571.51 241.93V242.28M572.19 242.01V242.36M574.89 241.75V242.54M575.57 242.54V243.34M576.93 242.66V244.69M577.60 244.69V245.74M579.63 243.44V243.79M580.99 242.07V242.42M581.66 242.21V243.35M583.70 239.22V239.83M584.37 239.83V240.35M585.73 237.66V239.12M591.14 228.93V229.75M591.82 229.75V230.68M593.17 228.53V229.78M593.85 229.78V232.89M594.53 232.89V234.04M595.20 234.04V236.08M597.91 231.03V232.67M599.94 230.71V231.21M600.62 231.21V233.23M601.97 232.77V233.83M602.65 233.83V234.52M603.33 234.52V236.72M604.68 236.28V236.63M605.36 236.32V236.68M606.04 236.68V239.21M608.74 237.97V240.06M610.10 238.07V240.14M611.45 237.46V238.55M612.13 238.55V239.48M612.81 239.48V241.41M614.84 239.22V240.13M615.51 240.13V241.26M616.19 241.26V243.17M617.55 242.36V243.78M618.22 243.78V246.56M620.25 243.58V243.93M621.61 243.46V243.99M622.96 243.02V243.37M624.99 241.20V242.65M625.67 242.65V244.18M627.70 242.58V243.35M629.05 242.02V242.37M630.41 240.35V240.70M632.44 239.09V239.44M633.79 238.00V239.93M635.15 238.96V239.47M635.82 239.47V241.16M636.50 241.16V243.83M637.18 243.83V244.18M637.86 243.98V244.33M639.21 243.51V243.93M639.89 243.93V244.28M640.56 244.14V245.64M641.24 245.64V247.68M641.92 247.68V251.60M644.63 246.41V246.84M645.30 246.84V248.45M645.98 248.45V249.24M646.66 249.24V250.04M648.01 249.44V250.57M648.69 250.57V251.06M650.04 250.61V250.96M652.07 249.39V249.86M652.75 249.86V251.91M654.10 249.80V250.28M654.78 250.28V251.08M656.81 249.31V251.13M658.17 250.49V250.89M661.55 248.12V248.47M663.58 246.07V246.42M664.94 245.11V246.84M665.61 246.84V248.29M666.29 248.29V249.07M667.64 247.86V248.21M669.00 246.98V247.78M669.67 247.78V248.13M671.03 246.86V247.93M671.71 247.93V250.21M672.38 250.21V251.06M673.74 250.69V251.04M674.41 250.93V251.61M675.77 250.84V251.20M677.12 250.39V251.38M677.80 251.38V251.78M679.83 249.09V250.70M680.51 250.70V251.05M681.18 250.95V251.30M681.86 251.28V251.63M682.54 251.63V257.75M685.25 252.77V253.43M686.60 252.10V252.88M687.95 250.84V252.42M689.31 251.61V251.96M689.98 251.88V253.85M691.34 252.04V252.74M694.72 246.37V246.72M696.75 245.43V246.15M698.79 242.86V245.73M702.85 237.84V239.13M706.23 232.28V234.21M706.91 234.21V234.56M707.59 234.48V234.83M709.62 231.47V232.76M712.33 227.48V229.75M715.03 209.57V212.72M715.71 212.72V217.69M717.74 210.53V213.77M718.42 213.77V214.75M719.10 214.75V217.91M719.77 217.91V218.33M720.45 218.33V221.08M725.87 198.75V203.98M726.54 203.98V205.78M727.22 205.78V208.83M727.90 208.83V209.18M732.64 200.39V201.23M738.73 92.65V93.03M739.41 93.03V109.94M740.08 109.94V139.96M742.11 124.93V141.77M742.79 141.77V181.96M743.47 181.96V183.12M744.82 155.60V160.75M745.50 160.75V166.64M746.18 166.64V173.22M746.85 173.22V179.30M747.53 179.30V180.25M748.88 176.75V185.88M749.56 185.88V188.02M751.59 183.78V187.68M752.27 187.68V189.73M752.95 189.73V192.62M754.98 184.83V189.08M755.65 189.08V192.33M756.33 192.33V193.24M757.01 193.24V199.10M758.36 192.22V194.57M759.04 194.57V196.66M761.75 184.70V186.37M762.42 186.37V186.80M763.10 186.80V188.63M763.78 188.63V188.98M764.45 188.93V190.75M766.49 180.25V189.93M767.16 189.93V192.98M770.55 175.45V176.49M771.22 176.49V181.19M772.58 175.32V175.87M773.26 175.87V177.87M775.96 163.44V168.69M776.64 168.69V177.87M780.70 161.49V168.80M781.38 168.80V169.35M782.73 166.68V170.05M784.76 164.80V168.60M785.44 168.60V171.24M786.80 169.94V170.29M789.50 162.77V164.28M790.18 164.28V165.66M790.86 165.66V169.45M792.21 168.26V171.80M793.57 170.25V170.93M794.92 169.72V173.02M795.60 173.02V173.37M797.63 170.43V172.77M798.30 172.77V174.45M800.34 171.78V176.80M801.69 175.04V177.49M804.40 173.51V174.29M805.75 173.46V176.68M807.11 167.09V167.62M811.17 123.21V151.77M813.20 118.36V138.65M817.26 120.37V128.60M817.94 128.60V132.62M818.61 132.62V137.27M819.29 137.27V140.44M820.65 139.84V140.19M821.32 140.00V143.95M822.68 121.20V124.26M823.35 124.26V125.74M824.03 125.74V141.71M828.09 108.48V123.29M829.45 123.05V124.98M830.12 124.98V126.40M830.80 126.40V127.75M832.15 115.90V124.79M833.51 118.32V120.87M834.19 120.87V127.88M834.86 127.88V133.90M836.89 128.59V133.80M838.25 132.13V132.92M842.99 117.51V125.94M844.34 124.55V131.54M845.69 127.23V127.63" stroke="#ef5350" fill="none" stroke-width="0.9"/><path d="M9.60 236.97V236.62M10.28 236.97V235.52M10.95 235.52V235.17M11.63 235.25V234.12M12.31 234.12V232.94M14.34 233.77V233.03M16.37 237.53V237.01M19.75 241.89V239.28M22.46 241.96V241.61M23.82 242.50V239.12M24.49 239.12V237.06M25.85 238.68V235.84M26.52 235.84V234.84M27.20 234.84V231.92M27.88 231.92V229.01M31.26 236.54V236.09M32.62 237.53V235.47M33.97 238.25V237.52M36.00 241.16V239.60M36.68 239.60V238.67M37.36 238.67V235.62M38.03 235.62V234.70M38.71 234.70V232.83M39.39 232.83V232.25M42.10 237.74V235.98M42.77 235.98V235.63M44.13 238.12V236.79M48.87 238.29V236.86M49.54 236.86V236.23M50.22 236.23V234.70M50.90 234.70V231.77M52.25 232.62V231.96M52.93 231.96V230.59M53.60 230.59V229.53M57.67 234.31V233.32M58.34 233.32V232.72M59.70 232.94V229.99M63.08 233.47V233.12M65.11 238.00V237.65M65.79 237.95V237.53M66.47 237.53V234.59M67.14 234.59V232.48M67.82 232.48V219.43M69.18 228.84V228.49M69.85 228.72V225.99M71.88 227.82V227.47M73.24 227.83V227.42M75.27 228.92V228.36M75.95 228.36V226.37M76.62 226.37V226.02M79.33 228.44V226.61M80.68 228.20V226.81M82.04 227.44V226.90M83.39 228.16V225.70M86.10 227.65V227.24M86.78 227.24V226.66M90.84 234.66V233.28M96.93 239.64V239.29M97.61 239.30V238.74M98.96 239.60V239.08M100.32 239.68V238.34M102.35 240.12V239.20M103.03 239.20V238.85M104.38 241.67V239.40M105.73 239.64V237.64M106.41 237.64V235.35M107.09 235.35V233.84M107.76 233.84V233.33M108.44 233.33V232.69M109.12 232.69V232.34M112.50 234.84V234.17M113.18 234.17V233.66M113.86 233.66V231.17M115.21 232.39V228.98M117.92 233.14V232.15M119.95 235.57V232.05M121.30 233.52V232.95M121.98 232.95V229.67M122.66 229.67V229.13M123.34 229.13V228.23M127.40 231.73V229.80M129.43 231.15V230.77M130.11 230.77V229.86M132.14 233.90V233.55M132.81 233.76V232.83M134.17 234.84V234.49M135.52 235.40V235.05M136.88 237.94V237.59M138.23 239.09V238.41M138.91 238.41V237.59M140.26 238.70V236.64M140.94 236.64V234.63M142.29 236.44V233.70M143.65 235.82V234.88M145.68 236.67V233.12M146.35 233.12V229.09M147.03 229.09V228.38M149.06 231.75V231.40M151.09 234.53V234.05M151.77 234.05V233.11M155.15 237.79V236.21M155.83 236.21V235.69M159.89 240.74V237.11M163.28 240.50V239.28M170.05 247.23V246.53M170.73 246.53V246.18M172.08 247.05V246.70M172.76 246.81V234.40M174.11 235.67V233.77M176.82 241.72V241.37M178.17 241.65V240.69M180.20 242.78V242.43M181.56 242.86V242.22M182.91 243.92V243.09M184.27 243.82V241.57M184.94 241.57V240.31M185.62 240.31V238.74M186.97 241.26V240.91M188.33 241.66V241.31M192.39 246.11V245.76M193.74 246.28V244.22M196.45 248.73V248.02M197.81 249.65V247.81M199.16 251.58V250.56M200.51 251.14V249.53M202.54 251.38V250.37M203.90 250.63V248.92M205.93 249.83V247.84M206.61 247.84V245.35M207.28 245.35V245.00M207.96 245.26V240.45M208.64 240.45V240.10M210.67 244.54V242.55M212.02 243.06V240.17M214.05 242.16V241.04M218.12 248.87V246.92M218.79 246.92V246.14M220.15 247.09V246.56M221.50 249.59V248.59M222.18 248.59V245.18M222.85 245.18V243.92M224.21 246.74V243.25M225.56 250.19V241.69M228.27 244.50V242.76M229.62 243.92V242.82M230.30 242.82V240.16M231.66 241.26V240.91M232.33 240.96V238.10M233.01 238.10V237.10M235.04 240.75V240.12M236.39 242.54V242.19M237.75 243.72V242.32M240.46 248.59V246.94M243.16 251.38V249.76M243.84 249.76V249.36M244.52 249.36V247.47M245.87 247.83V243.73M247.90 244.96V242.27M248.58 242.27V241.61M249.26 241.61V241.17M249.93 241.17V240.33M250.61 240.33V238.50M252.64 243.41V241.89M254.00 242.51V241.20M254.67 241.20V240.25M256.03 240.74V240.15M259.41 242.37V241.37M262.80 252.69V249.69M263.47 249.69V247.44M266.86 257.76V257.41M267.54 257.49V255.83M268.21 255.83V253.38M268.89 253.38V253.03M270.24 254.54V254.02M272.28 255.93V253.01M272.95 253.01V245.86M274.98 248.01V247.66M276.34 249.62V247.20M279.72 252.04V249.95M281.75 251.66V251.21M283.11 252.20V251.85M283.78 252.14V251.79M285.14 253.07V250.55M288.52 254.71V252.68M289.88 253.03V250.91M291.23 252.37V252.02M291.91 252.12V250.93M293.26 251.06V248.76M295.97 253.42V252.63M297.32 253.19V252.60M298.00 252.60V251.14M299.36 252.20V251.71M302.06 254.46V254.06M303.42 254.85V254.50M304.09 254.68V252.93M306.80 255.18V254.49M307.48 254.49V254.09M309.51 255.82V252.63M310.86 253.71V253.17M312.22 254.04V253.37M312.90 253.37V253.02M313.57 253.20V250.81M314.25 250.81V249.46M314.93 249.46V248.81M316.96 249.89V248.98M318.31 249.77V248.92M318.99 248.92V244.84M320.34 246.80V246.45M321.02 246.62V245.77M321.70 245.77V244.73M322.37 244.73V244.29M323.05 244.29V242.71M325.08 244.14V243.70M326.44 244.06V243.28M327.11 243.28V241.44M327.79 241.44V240.38M329.14 240.79V240.44M330.50 241.54V239.76M331.85 241.34V240.53M332.53 240.53V238.75M333.88 239.71V238.02M335.24 239.34V237.32M335.91 237.32V236.59M337.94 241.36V240.14M338.62 240.14V239.79M343.36 252.46V249.88M344.04 249.88V248.07M346.07 252.52V251.46M346.75 251.46V249.19M348.78 250.03V246.06M352.16 249.80V249.12M352.84 249.12V248.77M354.19 249.66V247.82M356.90 250.77V250.14M358.25 253.17V252.30M358.93 252.30V251.95M359.61 251.97V251.46M361.64 254.91V254.18M362.99 256.52V255.28M363.67 255.28V254.93M365.02 255.96V255.61M366.38 256.05V253.44M367.06 253.44V253.09M369.76 256.65V255.89M371.79 258.19V257.43M373.83 260.38V260.03M375.18 262.69V262.15M377.21 262.47V262.02M380.60 270.60V268.72M381.27 268.72V266.62M382.63 267.43V265.82M383.98 266.73V266.38M384.66 266.47V265.31M386.01 266.85V266.25M386.69 266.25V264.45M389.40 269.78V269.28M390.07 269.28V268.93M390.75 268.98V268.55M392.10 271.79V270.18M393.46 270.22V269.61M396.17 273.78V268.12M396.84 268.12V259.33M397.52 259.33V243.39M398.20 243.39V218.52M400.23 254.44V247.01M402.94 253.47V248.37M403.61 248.37V245.81M406.32 251.70V246.50M407.00 246.50V243.19M408.35 243.91V241.44M409.03 241.44V239.64M411.74 244.10V243.75M412.41 243.87V240.98M413.09 240.98V239.17M415.80 250.88V241.55M416.48 241.55V236.78M417.15 236.78V230.80M417.83 230.80V230.45M419.18 235.36V233.14M421.22 234.45V232.64M422.57 237.39V237.04M423.92 240.98V240.63M424.60 240.85V240.50M425.28 240.59V238.13M426.63 238.28V236.37M427.31 236.37V234.91M427.99 234.91V232.87M431.37 239.23V238.67M432.05 238.67V238.32M432.72 238.42V237.30M434.76 239.75V238.80M436.11 241.93V240.85M438.14 242.69V241.69M439.49 242.31V240.64M440.85 240.68V240.33M442.88 245.60V245.25M444.23 245.59V243.81M444.91 243.81V243.46M448.97 247.30V246.95M449.65 247.17V246.82M451.00 247.62V245.07M453.03 247.48V246.35M454.39 246.56V244.35M455.74 244.69V239.24M456.42 239.24V215.18M459.80 231.81V231.46M462.51 236.33V233.89M466.57 237.61V236.59M467.93 239.03V238.48M469.96 240.39V238.86M470.64 238.86V238.51M471.99 241.06V240.71M472.67 241.01V235.55M473.34 235.55V232.62M475.38 237.91V236.84M476.05 236.84V233.81M478.76 238.59V236.06M480.11 236.47V235.99M481.47 237.69V237.34M482.82 238.69V238.34M483.50 238.64V238.29M484.85 239.02V238.67M485.53 238.82V230.17M486.88 231.50V230.49M487.56 230.49V229.49M488.92 233.63V233.28M490.27 235.08V233.55M492.98 237.62V236.03M494.33 237.23V236.29M495.69 236.81V236.46M497.04 237.91V235.79M500.42 237.93V235.56M502.46 237.51V235.76M503.13 235.76V234.28M504.49 234.92V233.63M505.84 236.79V236.06M507.19 236.82V235.45M507.87 235.45V234.85M509.90 236.69V235.68M510.58 235.68V234.29M511.26 234.29V233.22M512.61 236.09V235.05M513.29 235.05V233.73M518.03 245.89V245.18M518.70 245.18V244.66M519.38 244.66V243.52M520.06 243.52V243.17M521.41 244.46V243.63M522.09 243.63V243.14M524.12 244.08V240.66M526.83 242.90V242.22M528.86 244.75V244.23M529.54 244.23V243.31M531.57 243.85V242.90M532.24 242.90V242.55M533.60 243.07V242.16M535.63 244.41V244.06M537.66 244.95V243.53M538.34 243.53V242.62M539.69 243.94V242.42M541.04 242.65V242.00M543.08 244.84V244.49M544.43 245.74V245.36M547.14 248.78V248.01M547.81 248.01V247.66M549.17 248.19V214.50M556.62 243.25V242.11M557.29 242.11V240.38M557.97 240.38V239.76M558.65 239.76V238.96M559.32 238.96V238.31M561.35 239.62V239.27M562.71 240.29V239.94M563.39 240.21V239.50M564.06 239.50V239.15M565.42 239.55V238.86M566.77 240.50V238.55M570.83 244.49V241.93M572.86 242.31V241.96M573.54 242.26V241.91M574.22 242.16V241.75M576.25 243.34V242.66M578.28 245.74V245.17M578.96 245.17V243.44M580.31 243.63V242.07M582.34 243.35V242.89M583.02 242.89V239.22M585.05 240.35V237.66M586.40 239.12V238.52M587.08 238.52V234.50M587.76 234.50V234.08M588.43 234.08V232.62M589.11 232.62V231.59M589.79 231.59V230.97M590.47 230.97V228.93M592.50 230.68V228.53M595.88 236.08V235.55M596.56 235.55V233.17M597.24 233.17V231.03M598.59 232.67V231.49M599.27 231.49V230.71M601.30 233.23V232.77M604.01 236.72V236.28M606.71 239.21V238.53M607.39 238.53V238.18M608.07 238.42V237.97M609.42 240.06V238.07M610.78 240.14V237.46M613.48 241.41V239.55M614.16 239.55V239.20M616.87 243.17V242.36M618.90 246.56V243.75M619.58 243.75V243.40M620.93 243.92V243.46M622.28 243.99V243.02M623.64 243.28V242.43M624.32 242.43V241.20M626.35 244.18V243.09M627.02 243.09V242.58M628.38 243.35V242.02M629.73 242.19V240.35M631.09 240.63V240.28M631.76 240.35V239.09M633.12 239.12V238.00M634.47 239.93V238.96M638.53 244.13V243.51M642.59 251.60V251.25M643.27 251.33V247.71M643.95 247.71V246.41M647.33 250.04V249.44M649.36 251.06V250.61M650.72 250.68V249.89M651.40 249.89V249.39M653.43 251.91V249.80M655.46 251.08V249.87M656.13 249.87V249.31M657.49 251.13V250.49M658.84 250.89V250.29M659.52 250.29V249.94M660.20 250.14V249.11M660.87 249.11V248.12M662.23 248.37V247.64M662.90 247.64V246.07M664.26 246.41V245.11M666.97 249.07V247.86M668.32 247.92V246.98M670.35 247.90V246.86M673.06 251.06V250.69M675.09 251.61V250.84M676.44 251.20V250.39M678.48 251.78V250.77M679.15 250.77V249.09M683.21 257.75V256.14M683.89 256.14V253.11M684.57 253.11V252.76M685.92 253.43V252.10M687.28 252.88V250.84M688.63 252.42V251.61M690.66 253.85V252.04M692.02 252.74V252.27M692.69 252.27V250.72M693.37 250.72V246.42M694.05 246.42V246.07M695.40 246.41V245.72M696.08 245.72V245.37M697.43 246.15V245.73M698.11 245.73V242.86M699.46 245.73V244.39M700.14 244.39V241.28M700.82 241.28V238.77M701.49 238.77V237.95M702.17 237.95V237.60M703.52 239.13V238.55M704.20 238.55V235.20M704.88 235.20V233.94M705.56 233.94V232.28M708.26 234.83V232.32M708.94 232.32V231.47M710.29 232.76V229.19M710.97 229.19V228.79M711.65 228.79V227.48M713.00 229.75V229.37M713.68 229.37V222.51M714.36 222.51V209.57M716.39 217.69V211.10M717.06 211.10V210.53M721.13 221.08V218.66M721.80 218.66V213.50M722.48 213.50V209.20M723.16 209.20V206.76M723.83 206.76V201.50M724.51 201.50V200.69M725.19 200.69V198.75M728.57 208.97V207.47M729.25 207.47V205.70M729.93 205.70V205.35M730.60 205.68V205.33M731.28 205.66V204.14M731.96 204.14V200.39M733.31 201.23V198.85M733.99 198.85V197.82M734.67 197.82V192.03M735.34 192.03V185.65M736.02 185.65V183.30M736.70 183.30V155.64M737.37 155.64V93.00M738.05 93.00V92.65M740.76 139.96V131.06M741.44 131.06V124.93M744.14 183.12V155.60M748.21 180.25V176.75M750.24 188.02V187.04M750.91 187.04V183.78M753.62 192.62V190.01M754.30 190.01V184.83M757.68 199.10V192.22M759.72 196.66V191.60M760.39 191.60V188.28M761.07 188.28V184.70M765.13 190.75V185.61M765.81 185.61V180.25M767.84 192.98V191.65M768.52 191.65V188.42M769.19 188.42V183.23M769.87 183.23V175.45M771.90 181.19V175.32M773.93 177.87V175.06M774.61 175.06V172.35M775.29 172.35V163.44M777.32 177.87V171.69M777.99 171.69V167.97M778.67 167.97V167.62M779.35 167.75V165.10M780.03 165.10V161.49M782.06 169.35V166.68M783.41 170.05V169.69M784.09 169.69V164.80M786.12 171.24V169.94M787.47 170.12V169.77M788.15 170.05V165.83M788.83 165.83V162.77M791.53 169.45V168.26M792.89 171.80V170.25M794.24 170.93V169.72M796.27 173.32V171.61M796.95 171.61V170.43M798.98 174.45V173.87M799.66 173.87V171.78M801.01 176.80V175.04M802.37 177.49V175.22M803.04 175.22V174.84M803.72 174.84V173.51M805.07 174.29V173.46M806.43 176.68V167.09M807.78 167.62V156.68M808.46 156.68V155.01M809.14 155.01V144.10M809.81 144.10V137.04M810.49 137.04V123.21M811.84 151.77V139.66M812.52 139.66V118.36M813.88 138.65V134.94M814.55 134.94V127.79M815.23 127.79V124.00M815.91 124.00V121.77M816.58 121.77V120.37M819.97 140.44V139.84M822.00 143.95V121.20M824.71 141.71V137.27M825.38 137.27V133.05M826.06 133.05V128.34M826.74 128.34V113.65M827.42 113.65V108.48M828.77 123.29V122.94M831.48 127.75V115.90M832.83 124.79V118.32M835.54 133.90V131.40M836.22 131.40V128.59M837.57 133.80V132.13M838.92 132.92V129.38M839.60 129.38V127.35M840.28 127.35V122.85M840.96 122.85V122.50M841.63 122.56V119.61M842.31 119.61V117.51M843.66 125.94V124.55M845.02 131.54V127.23M846.37 127.63V121.24" stroke="#26a69a" fill="none" stroke-width="0.9"/>
<rect x="9" y="339" width="956" height="32" fill="#7e57c2" fill-opacity="0.1"/>
<line x1="9" y1="339.3" x2="965" y2="339.3" stroke="#787b86" stroke-width="1" stroke-dasharray="3.6 3.65" opacity="0.62"/>
<line x1="9" y1="354.7" x2="965" y2="354.7" stroke="#787b86" stroke-width="1" stroke-dasharray="3.6 3.65" opacity="0.62"/>
<line x1="9" y1="371.2" x2="965" y2="371.2" stroke="#787b86" stroke-width="1" stroke-dasharray="3.6 3.65" opacity="0.62"/>
<defs><linearGradient id="ob" x1="0" y1="312" x2="0" y2="339.3" gradientUnits="userSpaceOnUse"><stop offset="0" stop-color="#4caf50" stop-opacity="0.9"/><stop offset="1" stop-color="#4caf50" stop-opacity="0.05"/></linearGradient><clipPath id="obc"><rect x="9" y="300" width="956" height="39.3"/></clipPath></defs>
<polygon clip-path="url(#obc)" fill="url(#ob)" points="8.8,339.3 8.8,367.4 10.1,371.2 11.3,364.9 12.6,363.7 13.9,366.2 15.1,368.1 16.4,368.7 17.6,373.7 18.6,375.6 19.5,371.2 20.8,373.7 22.0,368.7 22.7,362.4 23.9,361.1 25.2,353.6 26.5,351.1 27.5,342.9 28.3,353.6 29.6,352.3 30.9,356.1 32.1,358.0 33.4,358.6 34.6,358.0 35.9,360.5 36.8,349.8 37.8,349.2 38.8,354.2 39.7,349.8 40.6,349.8 41.6,354.8 42.8,354.2 44.3,349.8 45.4,358.0 46.6,356.1 47.9,357.4 49.1,354.8 50.4,348.5 51.7,344.8 52.9,342.2 54.2,345.4 55.4,347.3 56.4,353.6 57.7,344.8 58.6,344.1 59.5,349.8 60.7,348.5 61.7,354.8 62.7,362.4 64.0,359.9 64.9,361.1 65.8,353.6 66.8,346.0 68.0,342.9 69.3,342.2 70.3,345.4 71.2,343.5 72.4,349.2 73.7,348.5 75.0,346.0 76.2,344.1 77.5,349.8 78.7,353.6 80.0,349.8 81.3,352.3 82.5,349.8 83.8,348.5 84.7,353.6 85.7,354.8 86.9,361.1 88.2,362.4 89.4,364.9 90.7,367.4 91.7,370.6 93.0,368.7 94.2,371.2 95.5,370.0 96.4,373.7 97.6,371.2 98.9,368.7 100.2,366.8 101.0,365.5 102.3,369.3 103.1,372.5 104.3,364.9 105.2,357.4 106.5,349.8 107.3,341.6 108.3,346.0 109.4,348.5 110.6,346.6 111.5,349.8 112.8,343.5 114.0,342.9 115.3,345.4 116.5,349.8 117.4,352.3 118.4,356.7 119.7,351.1 120.7,353.6 121.6,342.9 122.8,342.2 124.1,346.0 124.7,352.3 126.0,351.1 127.2,353.6 128.0,349.8 129.0,354.8 129.9,358.6 131.1,356.1 132.4,354.8 133.7,359.9 134.9,361.1 136.2,364.9 137.4,361.8 138.7,363.7 140.0,361.8 140.9,353.6 142.1,352.3 143.1,358.0 144.1,356.1 145.0,349.8 146.0,344.1 146.9,348.5 147.9,347.9 148.8,352.3 149.7,356.1 150.7,353.6 151.9,358.6 153.2,358.0 154.5,361.1 155.7,358.6 157.0,363.0 158.0,358.6 159.2,355.5 160.5,360.5 162.0,363.0 163.3,360.5 164.8,361.1 165.8,362.4 166.8,367.4 168.1,370.6 169.3,368.1 170.2,366.2 171.1,367.4 171.8,349.8 172.5,343.5 173.4,344.8 174.4,354.8 175.6,354.8 176.9,357.4 178.1,358.6 179.4,356.7 180.7,356.1 181.9,359.2 183.2,359.9 184.1,353.6 184.9,350.4 186.0,355.5 187.2,352.9 188.2,355.5 189.5,357.4 190.7,360.5 192.0,362.4 193.3,360.5 194.5,364.9 195.8,367.4 197.0,369.3 198.3,366.2 199.6,368.1 200.8,364.9 202.1,362.4 203.3,363.0 204.6,357.4 205.9,348.5 206.7,342.2 207.6,340.3 208.6,349.8 209.9,346.0 210.9,342.2 211.8,347.9 213.0,346.0 214.3,349.2 215.2,354.8 216.2,362.4 217.4,358.0 218.7,360.5 220.0,357.4 221.0,359.9 221.9,349.8 223.1,351.7 224.4,345.4 225.6,351.1 226.9,349.8 228.2,353.6 229.4,352.3 230.7,347.9 231.9,343.5 232.8,349.2 233.8,349.8 235.1,354.8 236.3,355.5 237.6,357.4 238.9,363.7 240.1,365.5 241.1,363.7 242.0,368.7 242.9,362.4 243.9,354.8 245.2,349.8 246.4,349.2 247.7,345.4 248.9,349.8 250.0,346.6 250.8,353.6 252.1,354.8 253.4,348.5 254.6,347.9 256.0,351.1 257.3,352.3 258.3,356.1 259.5,359.9 260.8,367.4 261.7,371.2 262.3,359.9 263.3,367.4 264.6,370.6 265.8,370.0 267.1,364.9 268.3,363.7 269.6,364.9 270.9,364.3 271.7,353.6 272.8,346.6 273.6,353.6 274.6,352.3 275.9,353.6 276.8,351.7 278.0,353.6 279.3,352.9 280.6,355.5 281.8,358.0 283.1,357.4 284.3,359.2 285.6,358.0 286.9,361.8 288.1,363.7 289.0,357.4 290.3,354.8 291.3,356.7 292.3,352.9 293.2,356.7 294.4,356.1 295.7,359.9 296.9,356.7 298.2,355.5 299.5,359.2 300.7,358.6 302.0,361.1 303.2,359.9 304.5,362.4 305.8,363.0 306.6,360.5 307.7,353.6 308.7,352.3 309.5,356.7 310.4,357.4 311.4,352.3 312.4,347.9 313.3,345.4 314.2,340.3 315.2,344.8 316.2,346.0 317.1,341.6 318.4,342.2 319.2,337.2 320.0,334.7 320.9,336.6 321.8,332.8 323.0,330.3 323.8,339.7 325.0,342.9 326.3,340.3 327.6,339.1 328.4,335.9 329.3,334.7 330.3,337.2 331.6,338.5 332.9,336.6 334.1,335.9 335.4,330.9 336.4,335.3 337.6,353.6 338.5,352.3 339.4,357.4 340.4,364.9 341.7,371.2 342.7,373.7 343.6,366.2 344.8,368.7 345.7,364.9 346.7,359.9 347.7,355.5 348.6,359.9 349.9,358.0 350.7,360.5 351.7,359.2 352.8,360.5 354.0,355.5 354.9,361.1 356.2,363.7 357.4,366.8 358.7,364.9 359.9,367.4 360.8,364.9 361.8,368.7 363.1,366.2 364.3,364.9 365.6,361.8 366.6,361.1 367.9,367.4 368.8,370.0 369.8,361.8 370.9,364.9 371.9,368.7 373.2,371.2 374.4,372.5 375.7,371.2 376.9,373.7 378.2,375.0 379.5,378.8 380.5,380.0 381.4,369.3 382.6,368.1 384.0,366.8 385.3,365.8 386.5,364.5 387.8,371.4 389.0,367.7 390.3,366.4 391.3,370.2 392.6,368.3 393.4,371.4 394.3,374.6 395.3,369.5 396.1,366.4 396.6,328.6 397.2,324.2 398.5,324.2 399.1,328.6 399.7,341.2 400.4,352.5 401.6,351.3 402.9,348.8 403.9,352.5 404.8,353.8 406.0,351.3 407.3,346.2 408.6,348.1 409.8,350.0 411.1,349.4 412.3,352.5 413.6,355.1 414.5,356.9 415.5,350.0 416.5,343.1 417.8,342.5 419.0,342.5 420.3,345.6 421.5,346.2 422.4,351.3 423.3,353.8 424.6,351.9 425.8,351.3 426.8,347.5 427.7,345.6 428.3,352.5 429.4,351.3 430.6,353.8 431.9,353.2 432.9,356.3 434.1,355.1 435.4,357.6 436.7,356.9 437.9,360.7 439.2,358.8 440.4,358.2 441.4,362.6 442.3,365.8 443.5,362.6 444.5,359.5 445.5,363.9 446.7,362.6 448.0,365.1 449.3,363.9 450.5,360.1 451.8,361.4 453.0,358.8 453.9,353.8 454.6,341.2 455.2,328.6 455.6,324.8 456.4,332.4 457.1,341.2 457.7,346.2 458.6,347.5 459.6,350.0 460.9,353.2 462.1,350.6 463.4,352.5 464.6,354.4 465.9,356.3 467.1,358.2 468.4,359.5 469.7,357.6 470.9,360.7 471.9,352.5 473.2,351.9 474.5,348.1 475.7,352.5 477.0,351.9 478.2,353.8 479.5,354.4 480.8,352.5 482.0,356.9 483.3,356.3 484.5,358.2 485.2,350.0 485.8,343.1 486.7,341.8 487.6,344.3 488.6,350.0 489.8,351.9 490.8,355.1 492.1,356.3 493.4,359.5 494.6,357.6 495.9,355.1 496.8,358.8 497.8,361.4 498.9,357.6 499.9,356.3 501.2,353.8 502.4,352.5 503.4,348.8 504.3,353.8 505.6,351.3 506.5,355.1 507.5,354.4 508.5,357.6 509.4,347.5 510.6,351.3 511.2,356.3 512.0,353.8 513.3,357.6 514.3,365.8 515.1,368.9 516.0,371.4 517.0,374.6 518.0,371.4 519.3,368.9 520.2,366.4 521.1,367.7 522.1,361.4 523.3,357.6 524.3,353.2 525.2,358.8 526.5,361.4 527.7,364.5 529.0,363.2 530.3,361.4 531.3,355.7 532.2,360.1 533.4,359.5 534.7,361.4 535.9,358.8 537.2,359.5 538.2,354.4 539.1,353.8 540.0,356.3 541.0,363.2 542.2,364.5 543.5,363.9 544.5,370.2 545.8,371.4 547.0,370.2 547.9,365.1 548.3,347.5 548.8,327.3 549.4,334.9 550.2,336.2 550.8,341.2 551.7,347.5 552.6,351.9 553.6,353.2 554.6,355.7 555.5,359.5 556.3,355.1 557.4,352.5 558.6,348.8 559.6,351.3 560.9,353.8 562.1,351.9 563.4,353.2 564.7,355.7 565.9,353.8 567.2,357.6 568.4,360.7 569.7,365.8 570.6,360.1 571.5,354.4 572.7,355.1 574.0,356.9 575.2,358.2 576.5,357.6 577.5,364.5 578.5,360.1 579.8,356.3 581.0,351.3 582.0,346.9 582.9,343.1 583.8,347.5 584.8,341.2 585.7,338.0 586.6,339.9 587.6,336.8 588.9,334.9 589.9,333.0 590.7,331.7 591.6,336.2 592.6,341.2 593.6,348.8 594.9,350.6 595.8,353.8 597.0,350.0 598.3,346.9 599.6,349.4 600.8,353.8 602.1,357.6 603.3,360.1 604.6,363.2 605.9,366.4 607.1,363.9 608.4,365.8 609.6,364.5 610.9,368.9 612.2,369.5 612.8,357.6 613.8,362.0 614.7,360.1 615.6,364.5 616.8,367.0 618.1,366.4 619.3,367.7 620.6,364.5 621.6,360.1 622.9,359.5 624.1,360.1 625.4,358.8 626.6,359.5 627.9,355.1 629.2,349.4 630.4,347.5 631.7,341.2 632.7,339.9 633.6,342.5 634.5,351.3 635.5,358.8 636.5,366.4 637.4,362.6 638.4,363.9 639.2,370.2 640.0,362.6 640.6,368.7 641.5,373.7 642.3,376.3 643.1,371.2 644.4,369.3 645.7,370.0 646.9,368.1 647.8,366.2 648.8,371.2 650.1,367.4 651.3,364.9 652.6,366.2 653.9,364.3 655.1,364.9 655.7,359.2 657.0,361.8 658.3,363.0 659.1,356.1 660.4,351.1 661.7,346.0 662.7,342.9 663.7,341.6 664.9,344.8 665.8,349.8 666.7,354.8 668.0,352.3 669.2,356.1 670.0,351.1 670.9,355.5 671.7,361.8 672.8,367.4 673.8,371.2 674.6,366.2 675.9,361.1 677.2,363.0 678.4,361.8 679.3,364.9 680.1,356.1 680.9,352.9 681.8,357.4 682.6,371.8 683.5,362.4 684.7,361.8 686.0,360.5 686.6,355.5 687.9,356.7 689.1,359.9 690.4,359.2 691.4,354.8 692.3,344.8 693.2,339.1 694.4,338.5 695.7,337.2 696.9,335.9 698.2,334.0 699.2,329.6 700.2,325.9 701.1,324.0 702.0,332.8 703.0,329.6 704.0,327.7 705.3,327.1 706.1,330.9 707.0,329.6 708.0,326.5 708.7,324.6 709.3,334.7 710.3,330.9 711.2,334.7 712.1,330.9 713.1,323.3 714.3,325.2 715.3,328.4 716.2,327.1 717.1,329.6 717.9,342.2 719.1,343.5 720.0,346.0 720.9,344.1 721.6,336.6 722.5,337.2 723.8,333.4 725.0,330.9 725.7,339.1 726.7,343.5 727.9,341.6 729.2,342.2 730.1,336.6 731.0,335.3 732.0,339.1 733.0,336.6 733.9,332.2 734.7,328.4 735.7,322.1 736.8,316.4 737.6,318.3 738.5,325.9 739.5,342.2 740.5,342.9 741.4,349.8 742.0,359.9 743.1,352.3 743.9,354.2 745.2,358.6 746.5,359.9 748.1,360.5 749.6,359.9 751.1,361.8 752.8,361.1 754.0,361.8 755.7,363.7 756.9,360.5 758.2,359.9 759.4,360.5 760.7,355.5 762.0,356.7 763.2,358.0 764.5,354.8 765.7,357.4 767.0,354.8 768.0,354.8 769.0,348.5 769.9,347.3 770.8,349.8 771.8,347.9 772.8,348.5 773.7,346.0 774.3,343.5 774.9,347.9 776.2,347.3 777.4,345.4 778.7,342.9 780.0,344.8 781.2,346.6 782.5,349.8 783.7,352.3 785.0,353.6 786.3,354.2 787.5,352.3 788.2,345.4 788.8,348.5 790.0,353.6 791.3,354.8 792.6,356.7 793.8,356.1 795.1,358.6 796.3,358.0 797.2,360.5 798.2,359.2 799.5,361.8 800.8,359.2 802.0,359.9 803.0,355.5 803.9,356.1 804.8,360.5 805.5,353.6 806.2,344.8 807.1,339.1 808.1,339.7 808.9,332.2 810.2,327.1 810.8,337.2 811.8,334.7 812.7,342.2 813.6,346.0 814.6,342.9 815.6,344.8 816.9,348.5 818.1,352.3 819.4,352.9 820.3,348.5 821.5,345.4 822.4,349.8 823.4,355.5 824.4,351.1 825.3,343.5 826.2,340.3 827.2,344.1 828.2,349.8 829.1,347.3 830.4,350.4 831.6,349.2 832.9,353.6 834.1,357.4 835.4,356.7 836.7,355.5 837.5,357.4 838.6,351.1 839.8,349.8 841.1,347.9 842.1,352.3 843.3,353.6 844.6,351.1 845.9,349.8 845.9,339.3"/>
<polyline points="8.8,367.4 10.1,371.2 11.3,364.9 12.6,363.7 13.9,366.2 15.1,368.1 16.4,368.7 17.6,373.7 18.6,375.6 19.5,371.2 20.8,373.7 22.0,368.7 22.7,362.4 23.9,361.1 25.2,353.6 26.5,351.1 27.5,342.9 28.3,353.6 29.6,352.3 30.9,356.1 32.1,358.0 33.4,358.6 34.6,358.0 35.9,360.5 36.8,349.8 37.8,349.2 38.8,354.2 39.7,349.8 40.6,349.8 41.6,354.8 42.8,354.2 44.3,349.8 45.4,358.0 46.6,356.1 47.9,357.4 49.1,354.8 50.4,348.5 51.7,344.8 52.9,342.2 54.2,345.4 55.4,347.3 56.4,353.6 57.7,344.8 58.6,344.1 59.5,349.8 60.7,348.5 61.7,354.8 62.7,362.4 64.0,359.9 64.9,361.1 65.8,353.6 66.8,346.0 68.0,342.9 69.3,342.2 70.3,345.4 71.2,343.5 72.4,349.2 73.7,348.5 75.0,346.0 76.2,344.1 77.5,349.8 78.7,353.6 80.0,349.8 81.3,352.3 82.5,349.8 83.8,348.5 84.7,353.6 85.7,354.8 86.9,361.1 88.2,362.4 89.4,364.9 90.7,367.4 91.7,370.6 93.0,368.7 94.2,371.2 95.5,370.0 96.4,373.7 97.6,371.2 98.9,368.7 100.2,366.8 101.0,365.5 102.3,369.3 103.1,372.5 104.3,364.9 105.2,357.4 106.5,349.8 107.3,341.6 108.3,346.0 109.4,348.5 110.6,346.6 111.5,349.8 112.8,343.5 114.0,342.9 115.3,345.4 116.5,349.8 117.4,352.3 118.4,356.7 119.7,351.1 120.7,353.6 121.6,342.9 122.8,342.2 124.1,346.0 124.7,352.3 126.0,351.1 127.2,353.6 128.0,349.8 129.0,354.8 129.9,358.6 131.1,356.1 132.4,354.8 133.7,359.9 134.9,361.1 136.2,364.9 137.4,361.8 138.7,363.7 140.0,361.8 140.9,353.6 142.1,352.3 143.1,358.0 144.1,356.1 145.0,349.8 146.0,344.1 146.9,348.5 147.9,347.9 148.8,352.3 149.7,356.1 150.7,353.6 151.9,358.6 153.2,358.0 154.5,361.1 155.7,358.6 157.0,363.0 158.0,358.6 159.2,355.5 160.5,360.5 162.0,363.0 163.3,360.5 164.8,361.1 165.8,362.4 166.8,367.4 168.1,370.6 169.3,368.1 170.2,366.2 171.1,367.4 171.8,349.8 172.5,343.5 173.4,344.8 174.4,354.8 175.6,354.8 176.9,357.4 178.1,358.6 179.4,356.7 180.7,356.1 181.9,359.2 183.2,359.9 184.1,353.6 184.9,350.4 186.0,355.5 187.2,352.9 188.2,355.5 189.5,357.4 190.7,360.5 192.0,362.4 193.3,360.5 194.5,364.9 195.8,367.4 197.0,369.3 198.3,366.2 199.6,368.1 200.8,364.9 202.1,362.4 203.3,363.0 204.6,357.4 205.9,348.5 206.7,342.2 207.6,340.3 208.6,349.8 209.9,346.0 210.9,342.2 211.8,347.9 213.0,346.0 214.3,349.2 215.2,354.8 216.2,362.4 217.4,358.0 218.7,360.5 220.0,357.4 221.0,359.9 221.9,349.8 223.1,351.7 224.4,345.4 225.6,351.1 226.9,349.8 228.2,353.6 229.4,352.3 230.7,347.9 231.9,343.5 232.8,349.2 233.8,349.8 235.1,354.8 236.3,355.5 237.6,357.4 238.9,363.7 240.1,365.5 241.1,363.7 242.0,368.7 242.9,362.4 243.9,354.8 245.2,349.8 246.4,349.2 247.7,345.4 248.9,349.8 250.0,346.6 250.8,353.6 252.1,354.8 253.4,348.5 254.6,347.9 256.0,351.1 257.3,352.3 258.3,356.1 259.5,359.9 260.8,367.4 261.7,371.2 262.3,359.9 263.3,367.4 264.6,370.6 265.8,370.0 267.1,364.9 268.3,363.7 269.6,364.9 270.9,364.3 271.7,353.6 272.8,346.6 273.6,353.6 274.6,352.3 275.9,353.6 276.8,351.7 278.0,353.6 279.3,352.9 280.6,355.5 281.8,358.0 283.1,357.4 284.3,359.2 285.6,358.0 286.9,361.8 288.1,363.7 289.0,357.4 290.3,354.8 291.3,356.7 292.3,352.9 293.2,356.7 294.4,356.1 295.7,359.9 296.9,356.7 298.2,355.5 299.5,359.2 300.7,358.6 302.0,361.1 303.2,359.9 304.5,362.4 305.8,363.0 306.6,360.5 307.7,353.6 308.7,352.3 309.5,356.7 310.4,357.4 311.4,352.3 312.4,347.9 313.3,345.4 314.2,340.3 315.2,344.8 316.2,346.0 317.1,341.6 318.4,342.2 319.2,337.2 320.0,334.7 320.9,336.6 321.8,332.8 323.0,330.3 323.8,339.7 325.0,342.9 326.3,340.3 327.6,339.1 328.4,335.9 329.3,334.7 330.3,337.2 331.6,338.5 332.9,336.6 334.1,335.9 335.4,330.9 336.4,335.3 337.6,353.6 338.5,352.3 339.4,357.4 340.4,364.9 341.7,371.2 342.7,373.7 343.6,366.2 344.8,368.7 345.7,364.9 346.7,359.9 347.7,355.5 348.6,359.9 349.9,358.0 350.7,360.5 351.7,359.2 352.8,360.5 354.0,355.5 354.9,361.1 356.2,363.7 357.4,366.8 358.7,364.9 359.9,367.4 360.8,364.9 361.8,368.7 363.1,366.2 364.3,364.9 365.6,361.8 366.6,361.1 367.9,367.4 368.8,370.0 369.8,361.8 370.9,364.9 371.9,368.7 373.2,371.2 374.4,372.5 375.7,371.2 376.9,373.7 378.2,375.0 379.5,378.8 380.5,380.0 381.4,369.3 382.6,368.1 384.0,366.8 385.3,365.8 386.5,364.5 387.8,371.4 389.0,367.7 390.3,366.4 391.3,370.2 392.6,368.3 393.4,371.4 394.3,374.6 395.3,369.5 396.1,366.4 396.6,328.6 397.2,324.2 398.5,324.2 399.1,328.6 399.7,341.2 400.4,352.5 401.6,351.3 402.9,348.8 403.9,352.5 404.8,353.8 406.0,351.3 407.3,346.2 408.6,348.1 409.8,350.0 411.1,349.4 412.3,352.5 413.6,355.1 414.5,356.9 415.5,350.0 416.5,343.1 417.8,342.5 419.0,342.5 420.3,345.6 421.5,346.2 422.4,351.3 423.3,353.8 424.6,351.9 425.8,351.3 426.8,347.5 427.7,345.6 428.3,352.5 429.4,351.3 430.6,353.8 431.9,353.2 432.9,356.3 434.1,355.1 435.4,357.6 436.7,356.9 437.9,360.7 439.2,358.8 440.4,358.2 441.4,362.6 442.3,365.8 443.5,362.6 444.5,359.5 445.5,363.9 446.7,362.6 448.0,365.1 449.3,363.9 450.5,360.1 451.8,361.4 453.0,358.8 453.9,353.8 454.6,341.2 455.2,328.6 455.6,324.8 456.4,332.4 457.1,341.2 457.7,346.2 458.6,347.5 459.6,350.0 460.9,353.2 462.1,350.6 463.4,352.5 464.6,354.4 465.9,356.3 467.1,358.2 468.4,359.5 469.7,357.6 470.9,360.7 471.9,352.5 473.2,351.9 474.5,348.1 475.7,352.5 477.0,351.9 478.2,353.8 479.5,354.4 480.8,352.5 482.0,356.9 483.3,356.3 484.5,358.2 485.2,350.0 485.8,343.1 486.7,341.8 487.6,344.3 488.6,350.0 489.8,351.9 490.8,355.1 492.1,356.3 493.4,359.5 494.6,357.6 495.9,355.1 496.8,358.8 497.8,361.4 498.9,357.6 499.9,356.3 501.2,353.8 502.4,352.5 503.4,348.8 504.3,353.8 505.6,351.3 506.5,355.1 507.5,354.4 508.5,357.6 509.4,347.5 510.6,351.3 511.2,356.3 512.0,353.8 513.3,357.6 514.3,365.8 515.1,368.9 516.0,371.4 517.0,374.6 518.0,371.4 519.3,368.9 520.2,366.4 521.1,367.7 522.1,361.4 523.3,357.6 524.3,353.2 525.2,358.8 526.5,361.4 527.7,364.5 529.0,363.2 530.3,361.4 531.3,355.7 532.2,360.1 533.4,359.5 534.7,361.4 535.9,358.8 537.2,359.5 538.2,354.4 539.1,353.8 540.0,356.3 541.0,363.2 542.2,364.5 543.5,363.9 544.5,370.2 545.8,371.4 547.0,370.2 547.9,365.1 548.3,347.5 548.8,327.3 549.4,334.9 550.2,336.2 550.8,341.2 551.7,347.5 552.6,351.9 553.6,353.2 554.6,355.7 555.5,359.5 556.3,355.1 557.4,352.5 558.6,348.8 559.6,351.3 560.9,353.8 562.1,351.9 563.4,353.2 564.7,355.7 565.9,353.8 567.2,357.6 568.4,360.7 569.7,365.8 570.6,360.1 571.5,354.4 572.7,355.1 574.0,356.9 575.2,358.2 576.5,357.6 577.5,364.5 578.5,360.1 579.8,356.3 581.0,351.3 582.0,346.9 582.9,343.1 583.8,347.5 584.8,341.2 585.7,338.0 586.6,339.9 587.6,336.8 588.9,334.9 589.9,333.0 590.7,331.7 591.6,336.2 592.6,341.2 593.6,348.8 594.9,350.6 595.8,353.8 597.0,350.0 598.3,346.9 599.6,349.4 600.8,353.8 602.1,357.6 603.3,360.1 604.6,363.2 605.9,366.4 607.1,363.9 608.4,365.8 609.6,364.5 610.9,368.9 612.2,369.5 612.8,357.6 613.8,362.0 614.7,360.1 615.6,364.5 616.8,367.0 618.1,366.4 619.3,367.7 620.6,364.5 621.6,360.1 622.9,359.5 624.1,360.1 625.4,358.8 626.6,359.5 627.9,355.1 629.2,349.4 630.4,347.5 631.7,341.2 632.7,339.9 633.6,342.5 634.5,351.3 635.5,358.8 636.5,366.4 637.4,362.6 638.4,363.9 639.2,370.2 640.0,362.6 640.6,368.7 641.5,373.7 642.3,376.3 643.1,371.2 644.4,369.3 645.7,370.0 646.9,368.1 647.8,366.2 648.8,371.2 650.1,367.4 651.3,364.9 652.6,366.2 653.9,364.3 655.1,364.9 655.7,359.2 657.0,361.8 658.3,363.0 659.1,356.1 660.4,351.1 661.7,346.0 662.7,342.9 663.7,341.6 664.9,344.8 665.8,349.8 666.7,354.8 668.0,352.3 669.2,356.1 670.0,351.1 670.9,355.5 671.7,361.8 672.8,367.4 673.8,371.2 674.6,366.2 675.9,361.1 677.2,363.0 678.4,361.8 679.3,364.9 680.1,356.1 680.9,352.9 681.8,357.4 682.6,371.8 683.5,362.4 684.7,361.8 686.0,360.5 686.6,355.5 687.9,356.7 689.1,359.9 690.4,359.2 691.4,354.8 692.3,344.8 693.2,339.1 694.4,338.5 695.7,337.2 696.9,335.9 698.2,334.0 699.2,329.6 700.2,325.9 701.1,324.0 702.0,332.8 703.0,329.6 704.0,327.7 705.3,327.1 706.1,330.9 707.0,329.6 708.0,326.5 708.7,324.6 709.3,334.7 710.3,330.9 711.2,334.7 712.1,330.9 713.1,323.3 714.3,325.2 715.3,328.4 716.2,327.1 717.1,329.6 717.9,342.2 719.1,343.5 720.0,346.0 720.9,344.1 721.6,336.6 722.5,337.2 723.8,333.4 725.0,330.9 725.7,339.1 726.7,343.5 727.9,341.6 729.2,342.2 730.1,336.6 731.0,335.3 732.0,339.1 733.0,336.6 733.9,332.2 734.7,328.4 735.7,322.1 736.8,316.4 737.6,318.3 738.5,325.9 739.5,342.2 740.5,342.9 741.4,349.8 742.0,359.9 743.1,352.3 743.9,354.2 745.2,358.6 746.5,359.9 748.1,360.5 749.6,359.9 751.1,361.8 752.8,361.1 754.0,361.8 755.7,363.7 756.9,360.5 758.2,359.9 759.4,360.5 760.7,355.5 762.0,356.7 763.2,358.0 764.5,354.8 765.7,357.4 767.0,354.8 768.0,354.8 769.0,348.5 769.9,347.3 770.8,349.8 771.8,347.9 772.8,348.5 773.7,346.0 774.3,343.5 774.9,347.9 776.2,347.3 777.4,345.4 778.7,342.9 780.0,344.8 781.2,346.6 782.5,349.8 783.7,352.3 785.0,353.6 786.3,354.2 787.5,352.3 788.2,345.4 788.8,348.5 790.0,353.6 791.3,354.8 792.6,356.7 793.8,356.1 795.1,358.6 796.3,358.0 797.2,360.5 798.2,359.2 799.5,361.8 800.8,359.2 802.0,359.9 803.0,355.5 803.9,356.1 804.8,360.5 805.5,353.6 806.2,344.8 807.1,339.1 808.1,339.7 808.9,332.2 810.2,327.1 810.8,337.2 811.8,334.7 812.7,342.2 813.6,346.0 814.6,342.9 815.6,344.8 816.9,348.5 818.1,352.3 819.4,352.9 820.3,348.5 821.5,345.4 822.4,349.8 823.4,355.5 824.4,351.1 825.3,343.5 826.2,340.3 827.2,344.1 828.2,349.8 829.1,347.3 830.4,350.4 831.6,349.2 832.9,353.6 834.1,357.4 835.4,356.7 836.7,355.5 837.5,357.4 838.6,351.1 839.8,349.8 841.1,347.9 842.1,352.3 843.3,353.6 844.6,351.1 845.9,349.8" fill="none" stroke="#7e57c2" stroke-width="0.95" stroke-linejoin="round"/>
<polyline points="8.8,370.6 12.0,369.3 15.1,367.4 18.9,369.3 22.7,370.6 25.2,367.4 27.7,361.8 30.2,356.1 32.8,354.8 36.5,355.8 40.3,355.1 44.1,354.2 47.9,354.6 50.4,354.8 52.9,352.3 56.1,349.2 59.2,347.3 61.7,349.2 64.3,353.6 65.5,354.6 68.7,352.9 71.8,350.4 74.3,347.3 76.2,346.3 78.7,347.9 81.9,349.5 85.7,350.4 88.2,353.6 90.7,357.4 93.2,363.7 95.7,368.1 98.3,370.2 100.8,370.6 103.3,370.0 105.8,366.2 108.3,361.1 110.9,354.8 113.4,348.5 115.3,346.0 117.2,347.9 119.1,349.4 122.2,349.2 126.0,349.4 128.0,348.8 130.5,351.7 133.0,355.5 136.2,358.6 139.3,360.5 142.5,359.9 145.0,358.6 147.5,354.8 150.0,352.9 153.2,353.8 155.7,355.5 158.2,358.4 161.4,359.6 164.5,360.5 167.1,361.8 169.6,364.3 171.5,364.9 173.4,361.8 175.9,358.6 178.4,356.1 180.9,354.2 182.8,356.1 185.3,356.7 188.5,356.3 191.6,357.1 194.1,358.0 196.7,361.1 199.2,364.9 201.7,366.4 204.2,366.2 206.7,362.4 208.6,357.4 210.5,352.3 212.4,348.5 214.3,347.3 216.2,349.2 218.1,352.3 220.6,355.5 223.1,356.1 225.6,354.8 228.2,352.9 230.7,351.1 233.2,350.4 235.7,350.8 238.2,352.9 240.1,356.1 242.0,360.5 243.9,361.8 246.4,360.5 248.9,357.4 251.5,352.9 253.4,350.4 256.0,349.2 258.5,351.1 261.0,354.2 263.6,359.2 266.1,363.7 268.6,366.2 271.1,366.4 273.6,362.4 276.2,358.0 278.7,354.2 280.6,352.3 283.1,354.2 286.2,356.7 289.4,359.2 292.5,358.6 295.7,358.0 298.2,356.1 301.4,357.6 304.5,358.9 307.7,359.6 310.8,358.4 313.3,355.5 315.8,351.1 318.4,347.3 320.9,342.9 323.4,338.5 326.6,337.8 329.7,337.2 332.9,337.8 336.0,335.9 337.9,337.8 339.8,342.2 341.7,347.9 343.6,356.1 345.4,361.8 347.3,364.3 349.9,364.3 352.4,361.8 354.9,359.2 356.8,359.2 359.3,361.8 361.8,364.3 364.3,366.2 367.5,365.9 370.6,365.5 373.2,366.4 375.7,368.7 378.8,371.8 381.4,373.7 384.0,373.5 386.5,370.8 389.0,368.3 391.6,367.4 394.1,367.9 396.0,368.3 397.2,363.9 398.5,357.6 400.4,353.2 402.3,348.8 403.9,345.6 405.4,345.0 406.9,347.5 408.6,350.0 411.1,350.3 414.2,350.4 417.4,349.4 419.9,347.5 422.4,346.6 424.9,347.1 427.5,349.0 430.6,351.0 433.8,351.9 436.3,353.8 439.4,356.3 442.6,358.8 445.7,360.7 448.9,362.4 451.4,362.9 453.9,362.0 455.8,358.2 457.7,353.8 459.6,350.0 461.5,347.5 463.4,346.6 465.3,348.8 467.1,352.5 469.7,355.7 472.2,356.6 474.7,355.3 477.9,353.8 481.0,352.9 483.5,354.4 485.4,355.1 487.3,352.5 489.8,350.6 492.3,350.3 494.9,351.9 497.4,355.7 499.9,357.6 503.1,356.6 506.2,355.3 509.4,353.8 512.0,353.2 513.9,354.4 515.8,358.2 518.3,363.2 520.8,367.0 523.3,367.7 525.9,365.1 528.4,362.6 531.5,360.3 534.7,360.7 537.8,359.5 540.3,358.2 542.9,359.5 545.4,362.0 547.9,363.9 549.8,360.7 552.3,355.7 554.8,351.9 556.7,349.4 558.0,349.0 559.9,352.5 562.4,353.8 565.5,353.5 568.1,355.1 570.6,357.3 573.7,358.6 577.5,359.5 580.7,357.6 583.8,354.4 586.3,350.0 588.9,344.3 590.7,339.9 592.6,338.4 594.5,339.9 597.0,343.7 600.2,348.8 603.3,353.8 606.5,358.2 609.6,362.6 612.2,365.4 614.7,364.9 617.2,365.1 619.7,365.8 622.9,364.5 626.0,363.2 628.5,360.7 631.1,356.3 632.9,351.9 634.8,349.8 637.4,351.3 639.2,353.2 640.0,356.3 641.3,361.1 643.1,366.8 645.7,369.3 648.8,370.2 652.0,368.4 655.1,366.4 658.3,364.7 660.8,360.5 663.3,354.8 665.8,350.8 668.3,348.8 670.2,348.8 672.1,351.1 674.0,355.5 676.5,359.9 679.1,362.1 682.2,362.4 685.4,361.8 688.5,360.5 690.6,361.1 692.3,358.6 694.2,353.6 696.7,347.3 699.2,341.0 701.7,335.3 704.3,331.5 706.8,329.0 708.7,328.4 710.6,329.6 713.1,329.6 716.2,329.4 718.1,330.9 720.6,334.0 723.1,335.9 725.7,338.5 728.2,338.7 730.7,337.8 733.2,338.5 735.7,336.6 737.6,332.2 739.3,329.0 740.8,329.6 742.7,332.8 744.6,338.5 746.5,347.3 748.3,354.2 750.9,358.0 754.0,360.5 757.2,361.4 760.3,360.5 763.5,358.9 766.6,357.6 768.0,357.1 770.5,354.8 773.7,351.1 776.8,347.9 780.0,346.3 783.1,346.6 786.3,348.5 789.4,350.4 792.6,352.9 795.7,354.8 798.9,357.4 801.4,358.6 804.5,358.4 806.4,356.1 808.3,351.7 810.2,346.6 812.1,342.2 814.0,339.7 815.9,339.1 817.8,341.0 819.7,345.4 822.2,348.5 824.7,349.8 827.2,348.8 830.4,348.5 832.9,349.2 835.4,351.7 837.9,354.2 840.4,353.8 843.0,352.9 845.9,352.3" fill="none" stroke="#e6c232" stroke-width="0.98" stroke-linejoin="round"/>
<line x1="9" y1="446.5" x2="965" y2="446.5" stroke="#787b86" stroke-width="1" stroke-dasharray="3.6 3.65" opacity="0.5"/>
<rect x="9.0" y="445.62" width="1" height="0.88" fill="#26a69a"/><rect x="10.0" y="445.62" width="1" height="0.88" fill="#26a69a"/><rect x="11.0" y="445.62" width="1" height="0.88" fill="#26a69a"/><rect x="12.0" y="445.62" width="1" height="0.88" fill="#26a69a"/><rect x="13.0" y="445.64" width="1" height="0.86" fill="#b2dfdb"/><rect x="14.0" y="445.65" width="1" height="0.85" fill="#b2dfdb"/><rect x="15.0" y="445.65" width="1" height="0.85" fill="#b2dfdb"/><rect x="16.0" y="445.65" width="1" height="0.85" fill="#b2dfdb"/><rect x="17.0" y="445.65" width="1" height="0.85" fill="#b2dfdb"/><rect x="18.0" y="445.65" width="1" height="0.85" fill="#26a69a"/><rect x="19.0" y="445.65" width="1" height="0.85" fill="#26a69a"/><rect x="20.0" y="445.60" width="1" height="0.90" fill="#26a69a"/><rect x="21.0" y="445.55" width="1" height="0.95" fill="#26a69a"/><rect x="22.0" y="445.50" width="1" height="1.00" fill="#26a69a"/><rect x="23.0" y="445.41" width="1" height="1.09" fill="#26a69a"/><rect x="24.0" y="445.31" width="1" height="1.19" fill="#26a69a"/><rect x="25.0" y="445.24" width="1" height="1.26" fill="#26a69a"/><rect x="26.0" y="445.24" width="1" height="1.26" fill="#26a69a"/><rect x="27.0" y="445.24" width="1" height="1.26" fill="#26a69a"/><rect x="28.0" y="445.30" width="1" height="1.20" fill="#b2dfdb"/><rect x="29.0" y="445.65" width="1" height="0.85" fill="#b2dfdb"/><rect x="30.0" y="445.65" width="1" height="0.85" fill="#b2dfdb"/><rect x="32.0" y="446.50" width="1" height="0.85" fill="#ff5252"/><rect x="33.0" y="446.50" width="1" height="0.85" fill="#ff5252"/><rect x="34.0" y="446.50" width="1" height="0.85" fill="#ffcdd2"/><rect x="37.0" y="445.65" width="1" height="0.85" fill="#26a69a"/><rect x="38.0" y="445.65" width="1" height="0.85" fill="#26a69a"/><rect x="39.0" y="445.65" width="1" height="0.85" fill="#26a69a"/><rect x="40.0" y="445.65" width="1" height="0.85" fill="#26a69a"/><rect x="41.0" y="445.65" width="1" height="0.85" fill="#26a69a"/><rect x="42.0" y="445.65" width="1" height="0.85" fill="#26a69a"/><rect x="43.0" y="445.65" width="1" height="0.85" fill="#b2dfdb"/><rect x="45.0" y="446.50" width="1" height="0.85" fill="#ff5252"/><rect x="46.0" y="446.50" width="1" height="0.85" fill="#ff5252"/><rect x="47.0" y="446.50" width="1" height="0.85" fill="#ff5252"/><rect x="48.0" y="446.50" width="1" height="0.85" fill="#ffcdd2"/><rect x="50.0" y="445.65" width="1" height="0.85" fill="#26a69a"/><rect x="51.0" y="445.65" width="1" height="0.85" fill="#26a69a"/><rect x="52.0" y="445.65" width="1" height="0.85" fill="#26a69a"/><rect x="53.0" y="445.65" width="1" height="0.85" fill="#26a69a"/><rect x="54.0" y="445.65" width="1" height="0.85" fill="#b2dfdb"/><rect x="55.0" y="445.65" width="1" height="0.85" fill="#b2dfdb"/><rect x="56.0" y="445.65" width="1" height="0.85" fill="#b2dfdb"/><rect x="57.0" y="445.65" width="1" height="0.85" fill="#b2dfdb"/><rect x="58.0" y="445.65" width="1" height="0.85" fill="#b2dfdb"/><rect x="60.0" y="446.50" width="1" height="0.85" fill="#ff5252"/><rect x="61.0" y="446.50" width="1" height="0.85" fill="#ff5252"/><rect x="62.0" y="446.50" width="1" height="0.85" fill="#ff5252"/><rect x="63.0" y="446.50" width="1" height="0.93" fill="#ff5252"/><rect x="64.0" y="446.50" width="1" height="1.17" fill="#ff5252"/><rect x="65.0" y="446.50" width="1" height="0.86" fill="#ffcdd2"/><rect x="66.0" y="446.50" width="1" height="0.85" fill="#ffcdd2"/><rect x="67.0" y="445.65" width="1" height="0.85" fill="#26a69a"/><rect x="68.0" y="445.65" width="1" height="0.85" fill="#26a69a"/><rect x="69.0" y="445.65" width="1" height="0.85" fill="#b2dfdb"/><rect x="70.0" y="445.65" width="1" height="0.85" fill="#b2dfdb"/><rect x="71.0" y="445.65" width="1" height="0.85" fill="#b2dfdb"/><rect x="72.0" y="445.65" width="1" height="0.85" fill="#b2dfdb"/><rect x="73.0" y="445.65" width="1" height="0.85" fill="#b2dfdb"/><rect x="74.0" y="445.65" width="1" height="0.85" fill="#b2dfdb"/><rect x="75.0" y="445.65" width="1" height="0.85" fill="#b2dfdb"/><rect x="78.0" y="446.50" width="1" height="0.85" fill="#ff5252"/><rect x="79.0" y="446.50" width="1" height="0.85" fill="#ff5252"/><rect x="80.0" y="446.50" width="1" height="0.85" fill="#ff5252"/><rect x="81.0" y="446.50" width="1" height="0.85" fill="#ff5252"/><rect x="82.0" y="446.50" width="1" height="0.85" fill="#ff5252"/><rect x="83.0" y="446.50" width="1" height="0.85" fill="#ff5252"/><rect x="84.0" y="446.50" width="1" height="0.85" fill="#ff5252"/><rect x="85.0" y="446.50" width="1" height="0.87" fill="#ff5252"/><rect x="86.0" y="446.50" width="1" height="0.96" fill="#ff5252"/><rect x="87.0" y="446.50" width="1" height="1.06" fill="#ff5252"/><rect x="88.0" y="446.50" width="1" height="1.16" fill="#ff5252"/><rect x="89.0" y="446.50" width="1" height="1.26" fill="#ff5252"/><rect x="90.0" y="446.50" width="1" height="1.19" fill="#ffcdd2"/><rect x="91.0" y="446.50" width="1" height="1.12" fill="#ffcdd2"/><rect x="92.0" y="446.50" width="1" height="1.06" fill="#ffcdd2"/><rect x="93.0" y="446.50" width="1" height="0.98" fill="#ffcdd2"/><rect x="94.0" y="446.50" width="1" height="0.88" fill="#ffcdd2"/><rect x="95.0" y="446.50" width="1" height="0.85" fill="#ffcdd2"/><rect x="96.0" y="446.50" width="1" height="0.85" fill="#ffcdd2"/><rect x="97.0" y="446.50" width="1" height="0.85" fill="#ffcdd2"/><rect x="98.0" y="446.50" width="1" height="0.85" fill="#ffcdd2"/><rect x="99.0" y="446.50" width="1" height="0.85" fill="#ffcdd2"/><rect x="100.0" y="446.50" width="1" height="0.85" fill="#ffcdd2"/><rect x="102.0" y="445.65" width="1" height="0.85" fill="#26a69a"/><rect x="103.0" y="445.65" width="1" height="0.85" fill="#26a69a"/><rect x="104.0" y="445.65" width="1" height="0.85" fill="#26a69a"/><rect x="105.0" y="445.65" width="1" height="0.85" fill="#26a69a"/><rect x="106.0" y="445.55" width="1" height="0.95" fill="#26a69a"/><rect x="107.0" y="445.38" width="1" height="1.12" fill="#26a69a"/><rect x="108.0" y="445.25" width="1" height="1.25" fill="#26a69a"/><rect x="109.0" y="445.32" width="1" height="1.18" fill="#b2dfdb"/><rect x="110.0" y="445.38" width="1" height="1.12" fill="#b2dfdb"/><rect x="111.0" y="445.45" width="1" height="1.05" fill="#b2dfdb"/><rect x="112.0" y="445.53" width="1" height="0.97" fill="#b2dfdb"/><rect x="113.0" y="445.63" width="1" height="0.87" fill="#b2dfdb"/><rect x="114.0" y="445.65" width="1" height="0.85" fill="#b2dfdb"/><rect x="115.0" y="445.65" width="1" height="0.85" fill="#b2dfdb"/><rect x="116.0" y="445.65" width="1" height="0.85" fill="#b2dfdb"/><rect x="117.0" y="445.65" width="1" height="0.85" fill="#b2dfdb"/><rect x="118.0" y="445.65" width="1" height="0.85" fill="#b2dfdb"/><rect x="119.0" y="445.65" width="1" height="0.85" fill="#b2dfdb"/><rect x="120.0" y="445.65" width="1" height="0.85" fill="#b2dfdb"/><rect x="121.0" y="445.65" width="1" height="0.85" fill="#b2dfdb"/><rect x="122.0" y="445.65" width="1" height="0.85" fill="#b2dfdb"/><rect x="125.0" y="446.50" width="1" height="0.85" fill="#ff5252"/><rect x="126.0" y="446.50" width="1" height="0.85" fill="#ff5252"/><rect x="127.0" y="446.50" width="1" height="0.85" fill="#ff5252"/><rect x="128.0" y="446.50" width="1" height="0.85" fill="#ff5252"/><rect x="129.0" y="446.50" width="1" height="0.85" fill="#ffcdd2"/><rect x="130.0" y="446.50" width="1" height="0.85" fill="#ffcdd2"/><rect x="131.0" y="446.50" width="1" height="0.85" fill="#ffcdd2"/><rect x="132.0" y="446.50" width="1" height="0.85" fill="#ffcdd2"/><rect x="133.0" y="446.50" width="1" height="0.85" fill="#ffcdd2"/><rect x="134.0" y="446.50" width="1" height="0.85" fill="#ffcdd2"/><rect x="135.0" y="446.50" width="1" height="0.85" fill="#ffcdd2"/><rect x="136.0" y="446.50" width="1" height="0.85" fill="#ffcdd2"/><rect x="137.0" y="446.50" width="1" height="0.85" fill="#ffcdd2"/><rect x="138.0" y="446.50" width="1" height="0.85" fill="#ffcdd2"/><rect x="139.0" y="446.50" width="1" height="0.85" fill="#ffcdd2"/><rect x="140.0" y="446.50" width="1" height="0.85" fill="#ffcdd2"/><rect x="143.0" y="445.65" width="1" height="0.85" fill="#26a69a"/><rect x="144.0" y="445.65" width="1" height="0.85" fill="#26a69a"/><rect x="145.0" y="445.65" width="1" height="0.85" fill="#26a69a"/><rect x="146.0" y="445.65" width="1" height="0.85" fill="#26a69a"/><rect x="147.0" y="445.65" width="1" height="0.85" fill="#26a69a"/><rect x="148.0" y="445.65" width="1" height="0.85" fill="#26a69a"/><rect x="149.0" y="445.65" width="1" height="0.85" fill="#b2dfdb"/><rect x="150.0" y="445.65" width="1" height="0.85" fill="#b2dfdb"/><rect x="151.0" y="445.65" width="1" height="0.85" fill="#b2dfdb"/><rect x="152.0" y="445.65" width="1" height="0.85" fill="#b2dfdb"/><rect x="155.0" y="446.50" width="1" height="0.85" fill="#ff5252"/><rect x="156.0" y="446.50" width="1" height="0.85" fill="#ff5252"/><rect x="157.0" y="446.50" width="1" height="0.85" fill="#ff5252"/><rect x="158.0" y="446.50" width="1" height="0.85" fill="#ff5252"/><rect x="159.0" y="446.50" width="1" height="0.85" fill="#ff5252"/><rect x="160.0" y="446.50" width="1" height="0.85" fill="#ff5252"/><rect x="161.0" y="446.50" width="1" height="0.85" fill="#ff5252"/><rect x="162.0" y="446.50" width="1" height="0.85" fill="#ff5252"/><rect x="163.0" y="446.50" width="1" height="0.85" fill="#ff5252"/><rect x="164.0" y="446.50" width="1" height="0.85" fill="#ff5252"/><rect x="165.0" y="446.50" width="1" height="0.85" fill="#ff5252"/><rect x="166.0" y="446.50" width="1" height="0.85" fill="#ff5252"/><rect x="167.0" y="446.50" width="1" height="0.85" fill="#ff5252"/><rect x="168.0" y="446.50" width="1" height="0.85" fill="#ff5252"/><rect x="169.0" y="446.50" width="1" height="0.85" fill="#ff5252"/><rect x="170.0" y="446.50" width="1" height="0.85" fill="#ff5252"/><rect x="172.0" y="445.65" width="1" height="0.85" fill="#26a69a"/><rect x="173.0" y="445.25" width="1" height="1.25" fill="#26a69a"/><rect x="174.0" y="444.58" width="1" height="1.92" fill="#26a69a"/><rect x="175.0" y="443.92" width="1" height="2.58" fill="#26a69a"/><rect x="176.0" y="444.33" width="1" height="2.17" fill="#b2dfdb"/><rect x="177.0" y="444.74" width="1" height="1.76" fill="#b2dfdb"/><rect x="178.0" y="445.04" width="1" height="1.46" fill="#b2dfdb"/><rect x="179.0" y="445.22" width="1" height="1.28" fill="#b2dfdb"/><rect x="180.0" y="445.40" width="1" height="1.10" fill="#b2dfdb"/><rect x="181.0" y="445.58" width="1" height="0.92" fill="#b2dfdb"/><rect x="182.0" y="445.65" width="1" height="0.85" fill="#b2dfdb"/><rect x="183.0" y="445.65" width="1" height="0.85" fill="#b2dfdb"/><rect x="184.0" y="445.65" width="1" height="0.85" fill="#b2dfdb"/><rect x="185.0" y="445.65" width="1" height="0.85" fill="#b2dfdb"/><rect x="187.0" y="446.50" width="1" height="0.85" fill="#ff5252"/><rect x="188.0" y="446.50" width="1" height="0.85" fill="#ff5252"/><rect x="189.0" y="446.50" width="1" height="0.85" fill="#ff5252"/><rect x="190.0" y="446.50" width="1" height="0.85" fill="#ff5252"/><rect x="191.0" y="446.50" width="1" height="0.85" fill="#ff5252"/><rect x="192.0" y="446.50" width="1" height="0.85" fill="#ff5252"/><rect x="193.0" y="446.50" width="1" height="0.85" fill="#ff5252"/><rect x="194.0" y="446.50" width="1" height="0.85" fill="#ff5252"/><rect x="195.0" y="446.50" width="1" height="0.85" fill="#ff5252"/><rect x="196.0" y="446.50" width="1" height="0.85" fill="#ff5252"/><rect x="197.0" y="446.50" width="1" height="0.85" fill="#ff5252"/><rect x="198.0" y="446.50" width="1" height="0.85" fill="#ffcdd2"/><rect x="199.0" y="446.50" width="1" height="0.85" fill="#ffcdd2"/><rect x="201.0" y="445.65" width="1" height="0.85" fill="#26a69a"/><rect x="202.0" y="445.65" width="1" height="0.85" fill="#26a69a"/><rect x="203.0" y="445.60" width="1" height="0.90" fill="#26a69a"/><rect x="204.0" y="445.30" width="1" height="1.20" fill="#26a69a"/><rect x="205.0" y="445.00" width="1" height="1.50" fill="#26a69a"/><rect x="206.0" y="445.10" width="1" height="1.40" fill="#b2dfdb"/><rect x="207.0" y="445.20" width="1" height="1.30" fill="#b2dfdb"/><rect x="208.0" y="445.30" width="1" height="1.20" fill="#b2dfdb"/><rect x="209.0" y="445.40" width="1" height="1.10" fill="#b2dfdb"/><rect x="210.0" y="445.50" width="1" height="1.00" fill="#b2dfdb"/><rect x="211.0" y="445.60" width="1" height="0.90" fill="#b2dfdb"/><rect x="212.0" y="445.65" width="1" height="0.85" fill="#b2dfdb"/><rect x="213.0" y="445.65" width="1" height="0.85" fill="#b2dfdb"/><rect x="214.0" y="445.65" width="1" height="0.85" fill="#b2dfdb"/><rect x="215.0" y="445.65" width="1" height="0.85" fill="#b2dfdb"/><rect x="216.0" y="445.65" width="1" height="0.85" fill="#b2dfdb"/><rect x="217.0" y="445.65" width="1" height="0.85" fill="#b2dfdb"/><rect x="220.0" y="446.50" width="1" height="0.85" fill="#ff5252"/><rect x="221.0" y="446.50" width="1" height="0.85" fill="#ff5252"/><rect x="222.0" y="446.50" width="1" height="0.85" fill="#ff5252"/><rect x="223.0" y="446.50" width="1" height="0.85" fill="#ff5252"/><rect x="224.0" y="446.50" width="1" height="0.85" fill="#ffcdd2"/><rect x="225.0" y="446.50" width="1" height="0.85" fill="#ffcdd2"/><rect x="226.0" y="446.50" width="1" height="0.85" fill="#ffcdd2"/><rect x="229.0" y="445.65" width="1" height="0.85" fill="#26a69a"/><rect x="230.0" y="445.65" width="1" height="0.85" fill="#26a69a"/><rect x="231.0" y="445.65" width="1" height="0.85" fill="#26a69a"/><rect x="232.0" y="445.65" width="1" height="0.85" fill="#26a69a"/><rect x="233.0" y="445.65" width="1" height="0.85" fill="#b2dfdb"/><rect x="234.0" y="445.65" width="1" height="0.85" fill="#b2dfdb"/><rect x="235.0" y="445.65" width="1" height="0.85" fill="#b2dfdb"/><rect x="237.0" y="446.50" width="1" height="0.85" fill="#ff5252"/><rect x="238.0" y="446.50" width="1" height="0.85" fill="#ff5252"/><rect x="239.0" y="446.50" width="1" height="0.85" fill="#ff5252"/><rect x="240.0" y="446.50" width="1" height="0.85" fill="#ff5252"/><rect x="241.0" y="446.50" width="1" height="0.85" fill="#ff5252"/><rect x="242.0" y="446.50" width="1" height="0.93" fill="#ff5252"/><rect x="243.0" y="446.50" width="1" height="0.93" fill="#ff5252"/><rect x="244.0" y="446.50" width="1" height="0.85" fill="#ffcdd2"/><rect x="245.0" y="446.50" width="1" height="0.85" fill="#ffcdd2"/><rect x="246.0" y="446.50" width="1" height="0.85" fill="#ffcdd2"/><rect x="247.0" y="446.50" width="1" height="0.85" fill="#ffcdd2"/><rect x="248.0" y="446.50" width="1" height="0.85" fill="#ffcdd2"/><rect x="250.0" y="445.65" width="1" height="0.85" fill="#26a69a"/><rect x="251.0" y="445.65" width="1" height="0.85" fill="#26a69a"/><rect x="252.0" y="445.65" width="1" height="0.85" fill="#26a69a"/><rect x="253.0" y="445.65" width="1" height="0.85" fill="#b2dfdb"/><rect x="254.0" y="445.65" width="1" height="0.85" fill="#b2dfdb"/><rect x="257.0" y="446.50" width="1" height="0.85" fill="#ff5252"/><rect x="258.0" y="446.50" width="1" height="0.85" fill="#ff5252"/><rect x="259.0" y="446.50" width="1" height="0.85" fill="#ff5252"/><rect x="260.0" y="446.50" width="1" height="0.85" fill="#ff5252"/><rect x="261.0" y="446.50" width="1" height="0.85" fill="#ff5252"/><rect x="262.0" y="446.50" width="1" height="0.85" fill="#ff5252"/><rect x="263.0" y="446.50" width="1" height="0.85" fill="#ff5252"/><rect x="264.0" y="446.50" width="1" height="0.88" fill="#ff5252"/><rect x="265.0" y="446.50" width="1" height="0.92" fill="#ff5252"/><rect x="266.0" y="446.50" width="1" height="0.95" fill="#ff5252"/><rect x="267.0" y="446.50" width="1" height="0.98" fill="#ff5252"/><rect x="268.0" y="446.50" width="1" height="0.85" fill="#ffcdd2"/><rect x="269.0" y="446.50" width="1" height="0.85" fill="#ffcdd2"/><rect x="271.0" y="445.65" width="1" height="0.85" fill="#26a69a"/><rect x="272.0" y="445.65" width="1" height="0.85" fill="#26a69a"/><rect x="273.0" y="445.30" width="1" height="1.20" fill="#26a69a"/><rect x="274.0" y="444.90" width="1" height="1.60" fill="#26a69a"/><rect x="275.0" y="444.50" width="1" height="2.00" fill="#26a69a"/><rect x="276.0" y="444.73" width="1" height="1.77" fill="#b2dfdb"/><rect x="277.0" y="444.97" width="1" height="1.53" fill="#b2dfdb"/><rect x="278.0" y="445.20" width="1" height="1.30" fill="#b2dfdb"/><rect x="279.0" y="445.43" width="1" height="1.07" fill="#b2dfdb"/><rect x="280.0" y="445.65" width="1" height="0.85" fill="#b2dfdb"/><rect x="281.0" y="445.65" width="1" height="0.85" fill="#b2dfdb"/><rect x="282.0" y="445.65" width="1" height="0.85" fill="#b2dfdb"/><rect x="283.0" y="445.65" width="1" height="0.85" fill="#b2dfdb"/><rect x="284.0" y="445.65" width="1" height="0.85" fill="#b2dfdb"/><rect x="285.0" y="445.65" width="1" height="0.85" fill="#b2dfdb"/><rect x="290.0" y="446.50" width="1" height="0.85" fill="#ff5252"/><rect x="291.0" y="446.50" width="1" height="0.85" fill="#ff5252"/><rect x="292.0" y="446.50" width="1" height="0.85" fill="#ff5252"/><rect x="293.0" y="446.50" width="1" height="0.85" fill="#ff5252"/><rect x="294.0" y="446.50" width="1" height="0.85" fill="#ffcdd2"/><rect x="295.0" y="446.50" width="1" height="0.85" fill="#ffcdd2"/><rect x="296.0" y="446.50" width="1" height="0.85" fill="#ffcdd2"/><rect x="297.0" y="446.50" width="1" height="0.85" fill="#ffcdd2"/><rect x="298.0" y="446.50" width="1" height="0.85" fill="#ffcdd2"/><rect x="305.0" y="445.65" width="1" height="0.85" fill="#26a69a"/><rect x="306.0" y="445.65" width="1" height="0.85" fill="#26a69a"/><rect x="307.0" y="445.65" width="1" height="0.85" fill="#26a69a"/><rect x="308.0" y="445.65" width="1" height="0.85" fill="#26a69a"/><rect x="309.0" y="445.65" width="1" height="0.85" fill="#26a69a"/><rect x="310.0" y="445.65" width="1" height="0.85" fill="#26a69a"/><rect x="311.0" y="445.65" width="1" height="0.85" fill="#26a69a"/><rect x="312.0" y="445.65" width="1" height="0.85" fill="#26a69a"/><rect x="313.0" y="445.65" width="1" height="0.85" fill="#26a69a"/><rect x="314.0" y="445.65" width="1" height="0.85" fill="#26a69a"/><rect x="315.0" y="445.65" width="1" height="0.85" fill="#26a69a"/><rect x="316.0" y="445.65" width="1" height="0.85" fill="#26a69a"/><rect x="317.0" y="445.65" width="1" height="0.85" fill="#26a69a"/><rect x="318.0" y="445.65" width="1" height="0.85" fill="#26a69a"/><rect x="319.0" y="445.65" width="1" height="0.85" fill="#26a69a"/><rect x="320.0" y="445.65" width="1" height="0.85" fill="#26a69a"/><rect x="321.0" y="445.65" width="1" height="0.85" fill="#b2dfdb"/><rect x="322.0" y="445.65" width="1" height="0.85" fill="#b2dfdb"/><rect x="323.0" y="445.65" width="1" height="0.85" fill="#b2dfdb"/><rect x="324.0" y="445.65" width="1" height="0.85" fill="#b2dfdb"/><rect x="325.0" y="445.65" width="1" height="0.85" fill="#b2dfdb"/><rect x="326.0" y="445.65" width="1" height="0.85" fill="#b2dfdb"/><rect x="327.0" y="445.65" width="1" height="0.85" fill="#b2dfdb"/><rect x="328.0" y="445.65" width="1" height="0.85" fill="#b2dfdb"/><rect x="331.0" y="446.50" width="1" height="0.85" fill="#ff5252"/><rect x="332.0" y="446.50" width="1" height="0.85" fill="#ff5252"/><rect x="333.0" y="446.50" width="1" height="0.85" fill="#ff5252"/><rect x="334.0" y="446.50" width="1" height="0.85" fill="#ff5252"/><rect x="335.0" y="446.50" width="1" height="0.85" fill="#ff5252"/><rect x="336.0" y="446.50" width="1" height="1.10" fill="#ff5252"/><rect x="337.0" y="446.50" width="1" height="1.45" fill="#ff5252"/><rect x="338.0" y="446.50" width="1" height="1.80" fill="#ff5252"/><rect x="339.0" y="446.50" width="1" height="2.15" fill="#ff5252"/><rect x="340.0" y="446.50" width="1" height="2.50" fill="#ff5252"/><rect x="341.0" y="446.50" width="1" height="2.30" fill="#ffcdd2"/><rect x="342.0" y="446.50" width="1" height="2.10" fill="#ffcdd2"/><rect x="343.0" y="446.50" width="1" height="1.90" fill="#ffcdd2"/><rect x="344.0" y="446.50" width="1" height="1.70" fill="#ffcdd2"/><rect x="345.0" y="446.50" width="1" height="1.50" fill="#ffcdd2"/><rect x="346.0" y="446.50" width="1" height="1.23" fill="#ffcdd2"/><rect x="347.0" y="446.50" width="1" height="0.97" fill="#ffcdd2"/><rect x="348.0" y="446.50" width="1" height="0.85" fill="#ffcdd2"/><rect x="349.0" y="446.50" width="1" height="0.85" fill="#ffcdd2"/><rect x="350.0" y="446.50" width="1" height="0.85" fill="#ffcdd2"/><rect x="351.0" y="445.65" width="1" height="0.85" fill="#26a69a"/><rect x="352.0" y="445.65" width="1" height="0.85" fill="#26a69a"/><rect x="353.0" y="445.65" width="1" height="0.85" fill="#26a69a"/><rect x="354.0" y="445.65" width="1" height="0.85" fill="#b2dfdb"/><rect x="355.0" y="445.65" width="1" height="0.85" fill="#b2dfdb"/><rect x="356.0" y="445.65" width="1" height="0.85" fill="#b2dfdb"/><rect x="359.0" y="446.50" width="1" height="0.85" fill="#ff5252"/><rect x="360.0" y="446.50" width="1" height="0.85" fill="#ff5252"/><rect x="361.0" y="446.50" width="1" height="0.85" fill="#ff5252"/><rect x="362.0" y="446.50" width="1" height="0.85" fill="#ff5252"/><rect x="363.0" y="446.50" width="1" height="0.85" fill="#ff5252"/><rect x="364.0" y="446.50" width="1" height="0.85" fill="#ff5252"/><rect x="365.0" y="446.50" width="1" height="0.85" fill="#ff5252"/><rect x="366.0" y="446.50" width="1" height="0.85" fill="#ff5252"/><rect x="367.0" y="446.50" width="1" height="0.85" fill="#ff5252"/><rect x="368.0" y="446.50" width="1" height="0.85" fill="#ff5252"/><rect x="369.0" y="446.50" width="1" height="0.85" fill="#ff5252"/><rect x="370.0" y="446.50" width="1" height="0.85" fill="#ff5252"/><rect x="371.0" y="446.50" width="1" height="0.85" fill="#ff5252"/><rect x="372.0" y="446.50" width="1" height="0.85" fill="#ff5252"/><rect x="373.0" y="446.50" width="1" height="0.85" fill="#ffcdd2"/><rect x="374.0" y="446.50" width="1" height="0.85" fill="#ffcdd2"/><rect x="375.0" y="446.50" width="1" height="0.85" fill="#ffcdd2"/><rect x="376.0" y="446.50" width="1" height="0.85" fill="#ffcdd2"/><rect x="377.0" y="446.50" width="1" height="0.85" fill="#ffcdd2"/><rect x="378.0" y="446.50" width="1" height="0.85" fill="#ffcdd2"/><rect x="379.0" y="446.50" width="1" height="0.85" fill="#ffcdd2"/><rect x="380.0" y="446.50" width="1" height="0.85" fill="#ffcdd2"/><rect x="381.0" y="446.50" width="1" height="0.85" fill="#ffcdd2"/><rect x="383.0" y="445.65" width="1" height="0.85" fill="#26a69a"/><rect x="384.0" y="445.65" width="1" height="0.85" fill="#26a69a"/><rect x="385.0" y="445.65" width="1" height="0.85" fill="#26a69a"/><rect x="386.0" y="445.65" width="1" height="0.85" fill="#26a69a"/><rect x="387.0" y="445.65" width="1" height="0.85" fill="#26a69a"/><rect x="388.0" y="445.65" width="1" height="0.85" fill="#26a69a"/><rect x="389.0" y="445.65" width="1" height="0.85" fill="#26a69a"/><rect x="390.0" y="445.65" width="1" height="0.85" fill="#26a69a"/><rect x="391.0" y="445.65" width="1" height="0.85" fill="#26a69a"/><rect x="392.0" y="445.65" width="1" height="0.85" fill="#26a69a"/><rect x="393.0" y="445.65" width="1" height="0.85" fill="#26a69a"/><rect x="394.0" y="445.65" width="1" height="0.85" fill="#26a69a"/><rect x="396.0" y="445.52" width="1" height="0.98" fill="#26a69a"/><rect x="397.0" y="442.30" width="1" height="4.20" fill="#26a69a"/><rect x="398.0" y="440.96" width="1" height="5.54" fill="#26a69a"/><rect x="399.0" y="440.25" width="1" height="6.25" fill="#26a69a"/><rect x="400.0" y="442.75" width="1" height="3.75" fill="#b2dfdb"/><rect x="401.0" y="445.25" width="1" height="1.25" fill="#b2dfdb"/><rect x="402.0" y="445.65" width="1" height="0.85" fill="#b2dfdb"/><rect x="404.0" y="446.50" width="1" height="0.85" fill="#ff5252"/><rect x="405.0" y="446.50" width="1" height="1.29" fill="#ff5252"/><rect x="406.0" y="446.50" width="1" height="1.44" fill="#ff5252"/><rect x="407.0" y="446.50" width="1" height="1.34" fill="#ffcdd2"/><rect x="408.0" y="446.50" width="1" height="1.24" fill="#ffcdd2"/><rect x="409.0" y="446.50" width="1" height="1.14" fill="#ffcdd2"/><rect x="410.0" y="446.50" width="1" height="1.06" fill="#ffcdd2"/><rect x="411.0" y="446.50" width="1" height="1.06" fill="#ff5252"/><rect x="412.0" y="446.50" width="1" height="0.98" fill="#ffcdd2"/><rect x="413.0" y="446.50" width="1" height="0.90" fill="#ffcdd2"/><rect x="414.0" y="446.50" width="1" height="0.85" fill="#ffcdd2"/><rect x="415.0" y="446.50" width="1" height="0.85" fill="#ffcdd2"/><rect x="416.0" y="446.50" width="1" height="0.85" fill="#ffcdd2"/><rect x="417.0" y="445.65" width="1" height="0.85" fill="#26a69a"/><rect x="418.0" y="445.65" width="1" height="0.85" fill="#26a69a"/><rect x="419.0" y="445.65" width="1" height="0.85" fill="#b2dfdb"/><rect x="420.0" y="445.65" width="1" height="0.85" fill="#b2dfdb"/><rect x="422.0" y="446.50" width="1" height="0.85" fill="#ff5252"/><rect x="423.0" y="446.50" width="1" height="0.85" fill="#ff5252"/><rect x="424.0" y="446.50" width="1" height="0.85" fill="#ff5252"/><rect x="425.0" y="446.50" width="1" height="0.85" fill="#ff5252"/><rect x="426.0" y="446.50" width="1" height="0.85" fill="#ff5252"/><rect x="427.0" y="446.50" width="1" height="0.85" fill="#ffcdd2"/><rect x="428.0" y="446.50" width="1" height="0.85" fill="#ffcdd2"/><rect x="429.0" y="446.50" width="1" height="0.85" fill="#ffcdd2"/><rect x="430.0" y="446.50" width="1" height="0.85" fill="#ffcdd2"/><rect x="431.0" y="446.50" width="1" height="0.85" fill="#ffcdd2"/><rect x="432.0" y="446.50" width="1" height="0.85" fill="#ffcdd2"/><rect x="433.0" y="446.50" width="1" height="0.85" fill="#ffcdd2"/><rect x="434.0" y="446.50" width="1" height="0.85" fill="#ff5252"/><rect x="435.0" y="446.50" width="1" height="0.85" fill="#ff5252"/><rect x="436.0" y="446.50" width="1" height="0.85" fill="#ff5252"/><rect x="437.0" y="446.50" width="1" height="0.85" fill="#ff5252"/><rect x="438.0" y="446.50" width="1" height="0.85" fill="#ff5252"/><rect x="439.0" y="446.50" width="1" height="0.85" fill="#ff5252"/><rect x="440.0" y="446.50" width="1" height="0.85" fill="#ff5252"/><rect x="441.0" y="446.50" width="1" height="0.85" fill="#ff5252"/><rect x="442.0" y="446.50" width="1" height="0.85" fill="#ff5252"/><rect x="443.0" y="446.50" width="1" height="0.90" fill="#ff5252"/><rect x="444.0" y="446.50" width="1" height="0.85" fill="#ffcdd2"/><rect x="445.0" y="446.50" width="1" height="0.85" fill="#ffcdd2"/><rect x="446.0" y="446.50" width="1" height="0.85" fill="#ffcdd2"/><rect x="447.0" y="446.50" width="1" height="0.85" fill="#ffcdd2"/><rect x="448.0" y="446.50" width="1" height="0.85" fill="#ffcdd2"/><rect x="450.0" y="445.65" width="1" height="0.85" fill="#26a69a"/><rect x="451.0" y="445.65" width="1" height="0.85" fill="#26a69a"/><rect x="453.0" y="446.50" width="1" height="0.85" fill="#ff5252"/><rect x="454.0" y="445.65" width="1" height="0.85" fill="#26a69a"/><rect x="455.0" y="444.72" width="1" height="1.78" fill="#26a69a"/><rect x="456.0" y="443.58" width="1" height="2.92" fill="#26a69a"/><rect x="457.0" y="444.00" width="1" height="2.50" fill="#b2dfdb"/><rect x="458.0" y="444.42" width="1" height="2.08" fill="#b2dfdb"/><rect x="459.0" y="445.34" width="1" height="1.16" fill="#b2dfdb"/><rect x="460.0" y="445.65" width="1" height="0.85" fill="#b2dfdb"/><rect x="462.0" y="446.50" width="1" height="0.85" fill="#ff5252"/><rect x="463.0" y="446.50" width="1" height="1.00" fill="#ff5252"/><rect x="464.0" y="446.50" width="1" height="1.13" fill="#ff5252"/><rect x="465.0" y="446.50" width="1" height="1.07" fill="#ffcdd2"/><rect x="466.0" y="446.50" width="1" height="1.00" fill="#ffcdd2"/><rect x="467.0" y="446.50" width="1" height="0.93" fill="#ffcdd2"/><rect x="468.0" y="446.50" width="1" height="0.87" fill="#ffcdd2"/><rect x="469.0" y="446.50" width="1" height="0.85" fill="#ffcdd2"/><rect x="470.0" y="446.50" width="1" height="0.85" fill="#ffcdd2"/><rect x="471.0" y="446.50" width="1" height="0.85" fill="#ffcdd2"/><rect x="472.0" y="446.50" width="1" height="0.85" fill="#ffcdd2"/><rect x="473.0" y="446.50" width="1" height="0.85" fill="#ffcdd2"/><rect x="474.0" y="446.50" width="1" height="0.85" fill="#ffcdd2"/><rect x="475.0" y="446.50" width="1" height="0.85" fill="#ffcdd2"/><rect x="476.0" y="446.50" width="1" height="0.85" fill="#ffcdd2"/><rect x="477.0" y="446.50" width="1" height="0.85" fill="#ffcdd2"/><rect x="478.0" y="446.50" width="1" height="0.85" fill="#ffcdd2"/><rect x="479.0" y="446.50" width="1" height="0.85" fill="#ffcdd2"/><rect x="480.0" y="446.50" width="1" height="0.85" fill="#ffcdd2"/><rect x="482.0" y="445.65" width="1" height="0.85" fill="#26a69a"/><rect x="483.0" y="445.65" width="1" height="0.85" fill="#26a69a"/><rect x="484.0" y="445.65" width="1" height="0.85" fill="#26a69a"/><rect x="485.0" y="445.65" width="1" height="0.85" fill="#26a69a"/><rect x="486.0" y="445.65" width="1" height="0.85" fill="#26a69a"/><rect x="487.0" y="445.54" width="1" height="0.96" fill="#26a69a"/><rect x="488.0" y="445.65" width="1" height="0.85" fill="#b2dfdb"/><rect x="489.0" y="445.65" width="1" height="0.85" fill="#b2dfdb"/><rect x="490.0" y="445.65" width="1" height="0.85" fill="#b2dfdb"/><rect x="491.0" y="445.65" width="1" height="0.85" fill="#b2dfdb"/><rect x="492.0" y="445.65" width="1" height="0.85" fill="#b2dfdb"/><rect x="496.0" y="445.65" width="1" height="0.85" fill="#26a69a"/><rect x="497.0" y="445.65" width="1" height="0.85" fill="#26a69a"/><rect x="498.0" y="445.65" width="1" height="0.85" fill="#26a69a"/><rect x="499.0" y="445.65" width="1" height="0.85" fill="#26a69a"/><rect x="500.0" y="445.65" width="1" height="0.85" fill="#b2dfdb"/><rect x="501.0" y="445.65" width="1" height="0.85" fill="#b2dfdb"/><rect x="502.0" y="445.65" width="1" height="0.85" fill="#b2dfdb"/><rect x="503.0" y="445.65" width="1" height="0.85" fill="#b2dfdb"/><rect x="504.0" y="445.65" width="1" height="0.85" fill="#b2dfdb"/><rect x="505.0" y="445.65" width="1" height="0.85" fill="#b2dfdb"/><rect x="510.0" y="446.50" width="1" height="0.85" fill="#ff5252"/><rect x="511.0" y="446.50" width="1" height="0.85" fill="#ff5252"/><rect x="512.0" y="446.50" width="1" height="0.85" fill="#ff5252"/><rect x="513.0" y="446.50" width="1" height="0.85" fill="#ff5252"/><rect x="514.0" y="446.50" width="1" height="0.92" fill="#ff5252"/><rect x="515.0" y="446.50" width="1" height="1.08" fill="#ff5252"/><rect x="516.0" y="446.50" width="1" height="1.25" fill="#ff5252"/><rect x="517.0" y="446.50" width="1" height="1.23" fill="#ffcdd2"/><rect x="518.0" y="446.50" width="1" height="1.22" fill="#ffcdd2"/><rect x="519.0" y="446.50" width="1" height="1.20" fill="#ffcdd2"/><rect x="520.0" y="446.50" width="1" height="1.18" fill="#ffcdd2"/><rect x="521.0" y="446.50" width="1" height="1.17" fill="#ffcdd2"/><rect x="522.0" y="446.50" width="1" height="0.85" fill="#ffcdd2"/><rect x="523.0" y="446.50" width="1" height="0.85" fill="#ffcdd2"/><rect x="524.0" y="446.50" width="1" height="0.85" fill="#ffcdd2"/><rect x="525.0" y="446.50" width="1" height="0.85" fill="#ffcdd2"/><rect x="533.0" y="446.50" width="1" height="0.85" fill="#ff5252"/><rect x="534.0" y="446.50" width="1" height="0.85" fill="#ff5252"/><rect x="535.0" y="446.50" width="1" height="0.85" fill="#ffcdd2"/><rect x="536.0" y="446.50" width="1" height="0.85" fill="#ffcdd2"/><rect x="544.0" y="445.65" width="1" height="0.85" fill="#26a69a"/><rect x="545.0" y="445.63" width="1" height="0.87" fill="#26a69a"/><rect x="546.0" y="445.12" width="1" height="1.38" fill="#26a69a"/><rect x="547.0" y="445.11" width="1" height="1.39" fill="#26a69a"/><rect x="548.0" y="445.09" width="1" height="1.41" fill="#26a69a"/><rect x="549.0" y="445.18" width="1" height="1.32" fill="#b2dfdb"/><rect x="550.0" y="445.28" width="1" height="1.22" fill="#b2dfdb"/><rect x="551.0" y="445.08" width="1" height="1.42" fill="#26a69a"/><rect x="552.0" y="445.36" width="1" height="1.14" fill="#b2dfdb"/><rect x="553.0" y="445.65" width="1" height="0.85" fill="#b2dfdb"/><rect x="554.0" y="446.50" width="1" height="0.85" fill="#ff5252"/><rect x="555.0" y="446.50" width="1" height="0.85" fill="#ff5252"/><rect x="556.0" y="446.50" width="1" height="0.88" fill="#ff5252"/><rect x="557.0" y="446.50" width="1" height="0.85" fill="#ffcdd2"/><rect x="558.0" y="446.50" width="1" height="0.85" fill="#ffcdd2"/><rect x="559.0" y="446.50" width="1" height="0.85" fill="#ffcdd2"/><rect x="560.0" y="446.50" width="1" height="0.85" fill="#ff5252"/><rect x="561.0" y="446.50" width="1" height="0.85" fill="#ff5252"/><rect x="562.0" y="446.50" width="1" height="0.85" fill="#ff5252"/><rect x="563.0" y="446.50" width="1" height="0.85" fill="#ff5252"/><rect x="564.0" y="446.50" width="1" height="0.85" fill="#ff5252"/><rect x="565.0" y="446.50" width="1" height="0.85" fill="#ff5252"/><rect x="566.0" y="446.50" width="1" height="0.85" fill="#ff5252"/><rect x="567.0" y="446.50" width="1" height="0.85" fill="#ff5252"/><rect x="568.0" y="446.50" width="1" height="0.85" fill="#ff5252"/><rect x="569.0" y="446.50" width="1" height="0.85" fill="#ff5252"/><rect x="570.0" y="446.50" width="1" height="0.85" fill="#ff5252"/><rect x="571.0" y="446.50" width="1" height="0.85" fill="#ff5252"/><rect x="572.0" y="446.50" width="1" height="0.85" fill="#ff5252"/><rect x="573.0" y="446.50" width="1" height="0.85" fill="#ff5252"/><rect x="574.0" y="446.50" width="1" height="0.85" fill="#ff5252"/><rect x="575.0" y="446.50" width="1" height="0.85" fill="#ff5252"/><rect x="576.0" y="446.50" width="1" height="0.85" fill="#ff5252"/><rect x="577.0" y="446.50" width="1" height="0.85" fill="#ff5252"/><rect x="578.0" y="446.50" width="1" height="0.85" fill="#ff5252"/><rect x="579.0" y="446.50" width="1" height="0.85" fill="#ff5252"/><rect x="580.0" y="446.50" width="1" height="0.85" fill="#ff5252"/><rect x="581.0" y="446.50" width="1" height="0.85" fill="#ff5252"/><rect x="583.0" y="445.65" width="1" height="0.85" fill="#26a69a"/><rect x="584.0" y="445.65" width="1" height="0.85" fill="#26a69a"/><rect x="585.0" y="445.65" width="1" height="0.85" fill="#26a69a"/><rect x="586.0" y="445.65" width="1" height="0.85" fill="#26a69a"/><rect x="587.0" y="445.65" width="1" height="0.85" fill="#26a69a"/><rect x="588.0" y="445.65" width="1" height="0.85" fill="#26a69a"/><rect x="589.0" y="445.65" width="1" height="0.85" fill="#26a69a"/><rect x="590.0" y="445.65" width="1" height="0.85" fill="#b2dfdb"/><rect x="592.0" y="446.50" width="1" height="0.85" fill="#ff5252"/><rect x="593.0" y="446.50" width="1" height="0.85" fill="#ff5252"/><rect x="594.0" y="446.50" width="1" height="0.85" fill="#ff5252"/><rect x="595.0" y="446.50" width="1" height="0.85" fill="#ff5252"/><rect x="596.0" y="446.50" width="1" height="0.85" fill="#ff5252"/><rect x="597.0" y="446.50" width="1" height="0.85" fill="#ffcdd2"/><rect x="598.0" y="446.50" width="1" height="0.85" fill="#ffcdd2"/><rect x="599.0" y="446.50" width="1" height="0.85" fill="#ffcdd2"/><rect x="600.0" y="446.50" width="1" height="0.85" fill="#ffcdd2"/><rect x="601.0" y="446.50" width="1" height="0.85" fill="#ffcdd2"/><rect x="602.0" y="446.50" width="1" height="0.85" fill="#ffcdd2"/><rect x="603.0" y="446.50" width="1" height="0.85" fill="#ffcdd2"/><rect x="604.0" y="446.50" width="1" height="0.85" fill="#ff5252"/><rect x="605.0" y="446.50" width="1" height="0.85" fill="#ff5252"/><rect x="606.0" y="446.50" width="1" height="0.85" fill="#ff5252"/><rect x="607.0" y="446.50" width="1" height="0.87" fill="#ff5252"/><rect x="608.0" y="446.50" width="1" height="0.90" fill="#ff5252"/><rect x="609.0" y="446.50" width="1" height="0.93" fill="#ff5252"/><rect x="610.0" y="446.50" width="1" height="0.97" fill="#ff5252"/><rect x="611.0" y="446.50" width="1" height="1.00" fill="#ff5252"/><rect x="612.0" y="446.50" width="1" height="0.95" fill="#ffcdd2"/><rect x="613.0" y="446.50" width="1" height="0.90" fill="#ffcdd2"/><rect x="614.0" y="446.50" width="1" height="0.85" fill="#ffcdd2"/><rect x="615.0" y="446.50" width="1" height="0.85" fill="#ffcdd2"/><rect x="616.0" y="446.50" width="1" height="0.85" fill="#ffcdd2"/><rect x="617.0" y="446.50" width="1" height="0.85" fill="#ffcdd2"/><rect x="618.0" y="446.50" width="1" height="0.85" fill="#ffcdd2"/><rect x="619.0" y="446.50" width="1" height="0.85" fill="#ffcdd2"/><rect x="620.0" y="446.50" width="1" height="0.85" fill="#ffcdd2"/><rect x="621.0" y="446.50" width="1" height="0.85" fill="#ffcdd2"/><rect x="622.0" y="446.50" width="1" height="0.85" fill="#ffcdd2"/><rect x="623.0" y="446.50" width="1" height="0.85" fill="#ffcdd2"/><rect x="626.0" y="445.65" width="1" height="0.85" fill="#26a69a"/><rect x="627.0" y="445.65" width="1" height="0.85" fill="#26a69a"/><rect x="628.0" y="445.65" width="1" height="0.85" fill="#26a69a"/><rect x="629.0" y="445.65" width="1" height="0.85" fill="#26a69a"/><rect x="630.0" y="445.65" width="1" height="0.85" fill="#26a69a"/><rect x="631.0" y="445.65" width="1" height="0.85" fill="#26a69a"/><rect x="632.0" y="445.65" width="1" height="0.85" fill="#26a69a"/><rect x="633.0" y="445.65" width="1" height="0.85" fill="#26a69a"/><rect x="634.0" y="445.65" width="1" height="0.85" fill="#b2dfdb"/><rect x="635.0" y="445.65" width="1" height="0.85" fill="#b2dfdb"/><rect x="636.0" y="445.65" width="1" height="0.85" fill="#b2dfdb"/><rect x="637.0" y="445.65" width="1" height="0.85" fill="#b2dfdb"/><rect x="638.0" y="445.65" width="1" height="0.85" fill="#b2dfdb"/><rect x="641.0" y="446.50" width="1" height="0.85" fill="#ff5252"/><rect x="642.0" y="446.50" width="1" height="0.85" fill="#ff5252"/><rect x="643.0" y="446.50" width="1" height="0.85" fill="#ff5252"/><rect x="644.0" y="446.50" width="1" height="0.85" fill="#ff5252"/><rect x="645.0" y="446.50" width="1" height="0.85" fill="#ff5252"/><rect x="646.0" y="446.50" width="1" height="0.85" fill="#ffcdd2"/><rect x="647.0" y="446.50" width="1" height="0.85" fill="#ffcdd2"/><rect x="648.0" y="446.50" width="1" height="0.85" fill="#ffcdd2"/><rect x="649.0" y="446.50" width="1" height="0.85" fill="#ffcdd2"/><rect x="650.0" y="446.50" width="1" height="0.85" fill="#ffcdd2"/><rect x="651.0" y="446.50" width="1" height="0.85" fill="#ffcdd2"/><rect x="652.0" y="446.50" width="1" height="0.85" fill="#ffcdd2"/><rect x="653.0" y="446.50" width="1" height="0.85" fill="#ff5252"/><rect x="654.0" y="446.50" width="1" height="0.85" fill="#ff5252"/><rect x="655.0" y="446.50" width="1" height="0.85" fill="#ff5252"/><rect x="656.0" y="446.50" width="1" height="0.85" fill="#ff5252"/><rect x="657.0" y="446.50" width="1" height="0.85" fill="#ff5252"/><rect x="658.0" y="446.50" width="1" height="0.85" fill="#ff5252"/><rect x="659.0" y="446.50" width="1" height="0.85" fill="#ff5252"/><rect x="660.0" y="446.50" width="1" height="0.85" fill="#ffcdd2"/><rect x="661.0" y="446.50" width="1" height="0.85" fill="#ffcdd2"/><rect x="664.0" y="445.65" width="1" height="0.85" fill="#26a69a"/><rect x="665.0" y="445.65" width="1" height="0.85" fill="#26a69a"/><rect x="666.0" y="445.65" width="1" height="0.85" fill="#b2dfdb"/><rect x="669.0" y="446.50" width="1" height="0.85" fill="#ff5252"/><rect x="670.0" y="446.50" width="1" height="0.85" fill="#ff5252"/><rect x="671.0" y="446.50" width="1" height="0.85" fill="#ff5252"/><rect x="672.0" y="446.50" width="1" height="0.85" fill="#ff5252"/><rect x="673.0" y="446.50" width="1" height="0.85" fill="#ff5252"/><rect x="674.0" y="446.50" width="1" height="0.85" fill="#ffcdd2"/><rect x="675.0" y="446.50" width="1" height="0.85" fill="#ffcdd2"/><rect x="676.0" y="446.50" width="1" height="0.85" fill="#ffcdd2"/><rect x="677.0" y="446.50" width="1" height="0.85" fill="#ffcdd2"/><rect x="678.0" y="446.50" width="1" height="0.85" fill="#ffcdd2"/><rect x="679.0" y="446.50" width="1" height="0.85" fill="#ffcdd2"/><rect x="680.0" y="446.50" width="1" height="0.85" fill="#ffcdd2"/><rect x="681.0" y="446.50" width="1" height="0.85" fill="#ff5252"/><rect x="682.0" y="446.50" width="1" height="0.85" fill="#ff5252"/><rect x="683.0" y="446.50" width="1" height="0.85" fill="#ff5252"/><rect x="684.0" y="446.50" width="1" height="0.85" fill="#ff5252"/><rect x="685.0" y="446.50" width="1" height="0.85" fill="#ff5252"/><rect x="686.0" y="446.50" width="1" height="0.85" fill="#ff5252"/><rect x="687.0" y="446.50" width="1" height="0.85" fill="#ff5252"/><rect x="688.0" y="446.50" width="1" height="0.85" fill="#ffcdd2"/><rect x="689.0" y="446.50" width="1" height="0.85" fill="#ffcdd2"/><rect x="692.0" y="445.65" width="1" height="0.85" fill="#26a69a"/><rect x="693.0" y="445.65" width="1" height="0.85" fill="#26a69a"/><rect x="694.0" y="445.65" width="1" height="0.85" fill="#26a69a"/><rect x="695.0" y="445.65" width="1" height="0.85" fill="#26a69a"/><rect x="696.0" y="445.65" width="1" height="0.85" fill="#26a69a"/><rect x="697.0" y="445.65" width="1" height="0.85" fill="#26a69a"/><rect x="698.0" y="445.60" width="1" height="0.90" fill="#26a69a"/><rect x="699.0" y="445.58" width="1" height="0.92" fill="#26a69a"/><rect x="700.0" y="445.55" width="1" height="0.95" fill="#26a69a"/><rect x="701.0" y="445.53" width="1" height="0.97" fill="#26a69a"/><rect x="702.0" y="445.50" width="1" height="1.00" fill="#26a69a"/><rect x="703.0" y="445.52" width="1" height="0.98" fill="#b2dfdb"/><rect x="704.0" y="445.57" width="1" height="0.93" fill="#b2dfdb"/><rect x="705.0" y="445.62" width="1" height="0.88" fill="#b2dfdb"/><rect x="706.0" y="445.65" width="1" height="0.85" fill="#b2dfdb"/><rect x="707.0" y="445.65" width="1" height="0.85" fill="#b2dfdb"/><rect x="708.0" y="445.65" width="1" height="0.85" fill="#b2dfdb"/><rect x="709.0" y="445.65" width="1" height="0.85" fill="#b2dfdb"/><rect x="710.0" y="445.65" width="1" height="0.85" fill="#b2dfdb"/><rect x="711.0" y="445.65" width="1" height="0.85" fill="#b2dfdb"/><rect x="712.0" y="445.65" width="1" height="0.85" fill="#b2dfdb"/><rect x="713.0" y="445.43" width="1" height="1.07" fill="#26a69a"/><rect x="714.0" y="444.39" width="1" height="2.11" fill="#26a69a"/><rect x="715.0" y="443.94" width="1" height="2.56" fill="#26a69a"/><rect x="716.0" y="444.06" width="1" height="2.44" fill="#b2dfdb"/><rect x="717.0" y="445.23" width="1" height="1.27" fill="#b2dfdb"/><rect x="718.0" y="446.50" width="1" height="0.85" fill="#ff5252"/><rect x="719.0" y="446.50" width="1" height="0.85" fill="#ff5252"/><rect x="720.0" y="446.50" width="1" height="0.85" fill="#ffcdd2"/><rect x="721.0" y="446.50" width="1" height="0.85" fill="#ff5252"/><rect x="722.0" y="446.50" width="1" height="0.85" fill="#ff5252"/><rect x="723.0" y="446.50" width="1" height="0.85" fill="#ffcdd2"/><rect x="724.0" y="446.50" width="1" height="0.85" fill="#ffcdd2"/><rect x="725.0" y="446.50" width="1" height="0.85" fill="#ffcdd2"/><rect x="726.0" y="446.50" width="1" height="0.85" fill="#ff5252"/><rect x="727.0" y="446.50" width="1" height="0.85" fill="#ff5252"/><rect x="728.0" y="446.50" width="1" height="0.85" fill="#ff5252"/><rect x="729.0" y="446.50" width="1" height="0.85" fill="#ffcdd2"/><rect x="730.0" y="444.82" width="1" height="1.68" fill="#26a69a"/><rect x="731.0" y="444.74" width="1" height="1.76" fill="#26a69a"/><rect x="732.0" y="444.66" width="1" height="1.84" fill="#26a69a"/><rect x="733.0" y="444.49" width="1" height="2.01" fill="#26a69a"/><rect x="734.0" y="444.16" width="1" height="2.34" fill="#26a69a"/><rect x="735.0" y="441.83" width="1" height="4.67" fill="#26a69a"/><rect x="736.0" y="436.16" width="1" height="10.34" fill="#26a69a"/><rect x="737.0" y="428.08" width="1" height="18.42" fill="#26a69a"/><rect x="738.0" y="426.55" width="1" height="19.95" fill="#26a69a"/><rect x="739.0" y="430.12" width="1" height="16.38" fill="#b2dfdb"/><rect x="740.0" y="437.48" width="1" height="9.02" fill="#b2dfdb"/><rect x="741.0" y="444.48" width="1" height="2.02" fill="#b2dfdb"/><rect x="742.0" y="446.50" width="1" height="2.83" fill="#ff5252"/><rect x="743.0" y="446.50" width="1" height="5.67" fill="#ff5252"/><rect x="744.0" y="446.50" width="1" height="8.97" fill="#ff5252"/><rect x="745.0" y="446.50" width="1" height="12.25" fill="#ff5252"/><rect x="746.0" y="446.50" width="1" height="13.73" fill="#ff5252"/><rect x="747.0" y="446.50" width="1" height="14.32" fill="#ff5252"/><rect x="748.0" y="446.50" width="1" height="13.99" fill="#ffcdd2"/><rect x="749.0" y="446.50" width="1" height="12.45" fill="#ffcdd2"/><rect x="750.0" y="446.50" width="1" height="10.12" fill="#ffcdd2"/><rect x="751.0" y="446.50" width="1" height="7.77" fill="#ffcdd2"/><rect x="752.0" y="446.50" width="1" height="5.42" fill="#ffcdd2"/><rect x="753.0" y="446.50" width="1" height="4.19" fill="#ffcdd2"/><rect x="754.0" y="446.50" width="1" height="2.81" fill="#ffcdd2"/><rect x="755.0" y="446.50" width="1" height="2.22" fill="#ffcdd2"/><rect x="756.0" y="446.50" width="1" height="1.63" fill="#ffcdd2"/><rect x="757.0" y="446.50" width="1" height="0.85" fill="#ffcdd2"/><rect x="758.0" y="445.65" width="1" height="0.85" fill="#26a69a"/><rect x="759.0" y="445.32" width="1" height="1.18" fill="#26a69a"/><rect x="760.0" y="444.99" width="1" height="1.51" fill="#26a69a"/><rect x="761.0" y="444.71" width="1" height="1.79" fill="#26a69a"/><rect x="762.0" y="444.43" width="1" height="2.07" fill="#26a69a"/><rect x="763.0" y="444.56" width="1" height="1.94" fill="#b2dfdb"/><rect x="764.0" y="444.82" width="1" height="1.68" fill="#b2dfdb"/><rect x="765.0" y="445.09" width="1" height="1.41" fill="#b2dfdb"/><rect x="766.0" y="445.15" width="1" height="1.35" fill="#b2dfdb"/><rect x="767.0" y="445.19" width="1" height="1.31" fill="#b2dfdb"/><rect x="768.0" y="445.18" width="1" height="1.32" fill="#26a69a"/><rect x="769.0" y="444.31" width="1" height="2.19" fill="#26a69a"/><rect x="770.0" y="443.57" width="1" height="2.93" fill="#26a69a"/><rect x="771.0" y="443.39" width="1" height="3.11" fill="#26a69a"/><rect x="772.0" y="443.21" width="1" height="3.29" fill="#26a69a"/><rect x="773.0" y="443.58" width="1" height="2.92" fill="#b2dfdb"/><rect x="774.0" y="443.83" width="1" height="2.67" fill="#b2dfdb"/><rect x="775.0" y="444.09" width="1" height="2.41" fill="#b2dfdb"/><rect x="776.0" y="444.43" width="1" height="2.07" fill="#b2dfdb"/><rect x="777.0" y="444.68" width="1" height="1.82" fill="#b2dfdb"/><rect x="778.0" y="444.64" width="1" height="1.86" fill="#26a69a"/><rect x="779.0" y="444.90" width="1" height="1.60" fill="#b2dfdb"/><rect x="780.0" y="445.13" width="1" height="1.37" fill="#b2dfdb"/><rect x="781.0" y="445.46" width="1" height="1.04" fill="#b2dfdb"/><rect x="782.0" y="445.65" width="1" height="0.85" fill="#b2dfdb"/><rect x="783.0" y="446.50" width="1" height="0.85" fill="#ff5252"/><rect x="784.0" y="446.50" width="1" height="0.85" fill="#ff5252"/><rect x="785.0" y="446.50" width="1" height="1.26" fill="#ff5252"/><rect x="786.0" y="446.50" width="1" height="1.76" fill="#ff5252"/><rect x="787.0" y="446.50" width="1" height="1.74" fill="#ffcdd2"/><rect x="788.0" y="446.50" width="1" height="1.58" fill="#ffcdd2"/><rect x="789.0" y="446.50" width="1" height="1.42" fill="#ffcdd2"/><rect x="790.0" y="446.50" width="1" height="1.26" fill="#ffcdd2"/><rect x="791.0" y="446.50" width="1" height="1.43" fill="#ff5252"/><rect x="792.0" y="446.50" width="1" height="1.60" fill="#ff5252"/><rect x="793.0" y="446.50" width="1" height="1.76" fill="#ff5252"/><rect x="794.0" y="446.50" width="1" height="1.91" fill="#ff5252"/><rect x="795.0" y="446.50" width="1" height="2.01" fill="#ff5252"/><rect x="796.0" y="446.50" width="1" height="2.11" fill="#ff5252"/><rect x="797.0" y="446.50" width="1" height="2.21" fill="#ff5252"/><rect x="798.0" y="446.50" width="1" height="2.24" fill="#ff5252"/><rect x="799.0" y="446.50" width="1" height="2.17" fill="#ffcdd2"/><rect x="800.0" y="446.50" width="1" height="2.10" fill="#ffcdd2"/><rect x="801.0" y="446.50" width="1" height="2.04" fill="#ffcdd2"/><rect x="802.0" y="446.50" width="1" height="1.71" fill="#ffcdd2"/><rect x="803.0" y="446.50" width="1" height="1.27" fill="#ffcdd2"/><rect x="804.0" y="446.50" width="1" height="0.85" fill="#ffcdd2"/><rect x="806.0" y="445.21" width="1" height="1.29" fill="#26a69a"/><rect x="807.0" y="443.55" width="1" height="2.95" fill="#26a69a"/><rect x="808.0" y="442.88" width="1" height="3.62" fill="#26a69a"/><rect x="809.0" y="440.53" width="1" height="5.97" fill="#26a69a"/><rect x="810.0" y="438.96" width="1" height="7.54" fill="#26a69a"/><rect x="811.0" y="438.17" width="1" height="8.33" fill="#26a69a"/><rect x="812.0" y="439.64" width="1" height="6.86" fill="#b2dfdb"/><rect x="813.0" y="440.85" width="1" height="5.65" fill="#b2dfdb"/><rect x="814.0" y="440.90" width="1" height="5.60" fill="#b2dfdb"/><rect x="815.0" y="441.50" width="1" height="5.00" fill="#b2dfdb"/><rect x="816.0" y="443.72" width="1" height="2.78" fill="#b2dfdb"/><rect x="817.0" y="446.50" width="1" height="0.85" fill="#ff5252"/><rect x="818.0" y="446.50" width="1" height="2.78" fill="#ff5252"/><rect x="819.0" y="446.50" width="1" height="3.61" fill="#ff5252"/><rect x="820.0" y="446.50" width="1" height="2.33" fill="#ffcdd2"/><rect x="821.0" y="446.50" width="1" height="1.72" fill="#ffcdd2"/><rect x="822.0" y="446.50" width="1" height="1.87" fill="#ff5252"/><rect x="823.0" y="446.50" width="1" height="2.60" fill="#ff5252"/><rect x="824.0" y="446.50" width="1" height="3.33" fill="#ff5252"/><rect x="825.0" y="446.50" width="1" height="0.85" fill="#ffcdd2"/><rect x="826.0" y="445.62" width="1" height="0.88" fill="#26a69a"/><rect x="827.0" y="445.07" width="1" height="1.43" fill="#26a69a"/><rect x="828.0" y="445.32" width="1" height="1.18" fill="#b2dfdb"/><rect x="829.0" y="445.65" width="1" height="0.85" fill="#b2dfdb"/><rect x="830.0" y="446.50" width="1" height="0.85" fill="#ff5252"/><rect x="831.0" y="446.50" width="1" height="1.71" fill="#ff5252"/><rect x="832.0" y="446.50" width="1" height="3.29" fill="#ff5252"/><rect x="833.0" y="446.50" width="1" height="3.99" fill="#ff5252"/><rect x="834.0" y="446.50" width="1" height="4.24" fill="#ff5252"/><rect x="835.0" y="446.50" width="1" height="4.32" fill="#ff5252"/><rect x="836.0" y="446.50" width="1" height="4.02" fill="#ffcdd2"/><rect x="837.0" y="446.50" width="1" height="3.14" fill="#ffcdd2"/><rect x="838.0" y="446.50" width="1" height="1.83" fill="#ffcdd2"/><rect x="840.0" y="445.65" width="1" height="0.85" fill="#26a69a"/><rect x="841.0" y="445.65" width="1" height="0.85" fill="#b2dfdb"/><rect x="842.0" y="445.65" width="1" height="0.85" fill="#26a69a"/><rect x="843.0" y="445.65" width="1" height="0.85" fill="#b2dfdb"/><rect x="844.0" y="445.65" width="1" height="0.85" fill="#b2dfdb"/>
<polyline points="8.8,451.0 12.6,449.7 17.6,449.4 22.7,448.9 25.2,447.4 28.3,445.9 32.8,447.2 37.8,446.2 42.8,446.2 47.9,446.9 52.9,444.7 58.0,444.4 61.7,445.4 64.9,447.4 68.0,444.2 71.8,443.7 76.9,444.0 81.9,445.2 85.7,446.4 89.4,448.1 93.2,449.4 97.0,450.0 100.8,449.7 104.6,448.7 108.3,446.2 112.1,444.9 117.2,444.7 122.2,444.7 128.0,446.2 138.0,447.5 148.0,444.8 158.0,447.5 170.5,449.5 175.5,445.0 188.0,447.2 198.0,449.5 205.5,446.0 213.0,444.2 223.0,446.2 233.0,444.5 243.0,448.5 253.0,444.5 260.5,446.5 268.0,450.5 275.5,446.0 283.0,446.0 293.0,447.0 303.0,446.5 313.0,445.5 320.5,443.8 328.0,443.2 335.5,444.0 340.5,447.0 345.5,449.5 353.0,447.0 363.0,448.5 373.0,449.0 380.5,450.0 384.0,449.2 396.0,448.2 397.8,440.0 399.5,437.0 401.5,440.0 405.2,442.5 410.2,443.2 415.2,444.5 419.0,442.0 425.2,443.8 434.0,445.5 444.0,447.5 454.0,447.0 456.5,442.5 458.5,442.0 462.8,444.5 470.2,447.0 479.0,446.0 487.8,444.5 494.0,446.0 509.0,446.5 516.5,448.8 521.5,449.5 529.0,448.0 544.0,447.0 549.0,444.2 552.0,443.2 556.5,446.0 569.0,446.0 581.5,446.5 585.2,444.2 590.2,442.5 595.2,444.2 604.0,446.2 611.5,448.0 621.5,448.0 629.0,446.5 634.0,445.2 640.0,447.0 645.0,448.9 652.6,448.7 660.2,448.1 665.2,445.9 672.8,447.2 680.3,447.7 687.9,448.1 692.9,446.8 698.0,444.3 703.0,442.4 708.0,441.4 713.1,440.5 715.0,437.6 716.9,436.7 718.7,438.9 721.9,439.6 725.7,438.6 729.4,440.5 730.0,438.4 733.1,437.8 735.0,435.3 736.3,422.7 737.3,407.6 738.3,398.7 739.2,396.9 740.1,398.7 741.6,407.6 742.6,413.9 743.9,421.4 745.4,432.8 747.0,442.8 748.9,451.7 750.8,456.1 753.3,457.7 756.5,458.2 759.6,455.4 762.8,452.3 765.9,451.0 768.4,449.1 770.3,446.0 772.8,442.2 775.4,440.6 778.5,438.8 781.0,438.2 783.5,440.1 786.7,442.6 790.5,442.8 794.3,445.4 798.0,447.6 801.8,448.9 805.0,447.9 806.9,444.1 808.7,439.1 810.0,432.8 811.6,427.1 813.1,425.8 814.7,422.7 815.7,422.0 816.9,424.6 818.2,429.6 819.7,433.4 821.0,432.8 822.6,434.6 824.5,437.5 826.0,433.4 827.6,431.2 829.5,431.5 831.4,434.6 833.3,439.1 835.2,442.8 837.1,445.1 839.0,444.7 840.9,442.2 842.8,442.8 844.6,443.5 845.9,443.7" fill="none" stroke="#2962ff" stroke-width="1.1" stroke-linejoin="round"/>
<polyline points="8.8,451.8 12.6,450.6 17.6,450.2 22.7,450.0 25.2,448.7 28.3,447.2 32.8,446.8 37.8,446.4 42.8,446.4 47.9,446.4 52.9,445.5 58.0,444.9 61.7,444.9 64.9,446.2 68.0,444.9 71.8,444.3 76.9,444.0 81.9,444.5 85.7,445.5 89.4,446.8 93.2,448.4 97.0,449.3 100.8,449.6 104.6,449.3 108.3,447.4 112.1,445.9 117.2,445.2 122.2,444.9 128.0,445.5 138.0,447.0 148.0,445.5 158.0,447.0 170.5,448.8 178.0,447.0 188.0,447.0 198.0,448.8 205.5,447.5 213.0,445.0 223.0,445.8 233.0,445.0 243.0,447.5 253.0,445.0 260.5,445.8 268.0,449.5 275.5,448.0 283.0,446.2 293.0,446.8 303.0,446.5 313.0,446.0 320.5,444.5 328.0,443.5 335.5,443.2 340.5,444.5 345.5,448.0 353.0,447.5 363.0,448.0 373.0,448.2 380.5,449.5 384.0,449.5 395.2,448.8 397.8,445.0 401.5,441.2 406.5,441.2 411.5,442.5 415.2,443.8 420.2,442.5 426.5,443.2 434.0,445.0 441.5,446.2 451.5,447.5 455.2,446.2 459.0,443.8 464.0,443.8 470.2,446.2 479.0,445.5 489.0,445.5 499.0,446.5 509.0,446.5 516.5,447.5 524.0,448.8 534.0,447.5 546.5,447.0 550.2,445.0 554.0,444.5 559.0,445.8 569.0,445.8 581.5,446.2 586.5,444.5 591.5,443.0 596.5,443.8 604.0,445.5 611.5,447.0 621.5,447.5 629.0,447.0 634.0,445.8 640.0,447.0 645.0,448.4 652.6,448.4 660.2,447.7 665.2,446.2 672.8,446.8 680.3,447.4 687.9,447.7 692.9,447.1 698.0,445.2 703.0,443.4 708.0,442.1 713.1,441.1 715.6,439.9 718.1,438.4 721.3,439.2 725.7,438.4 729.4,439.6 730.0,440.1 733.1,439.7 735.0,437.8 736.9,427.7 738.8,416.4 740.7,409.4 742.0,408.8 743.2,412.6 745.1,419.5 747.0,428.3 748.9,437.8 750.8,446.6 752.7,452.3 754.6,455.2 757.1,456.9 759.6,456.7 762.8,454.4 766.5,451.9 770.3,448.9 773.5,444.7 777.2,441.3 780.4,439.7 782.9,439.4 786.1,440.6 790.5,441.6 794.3,443.5 798.0,445.4 801.8,446.9 805.0,447.2 807.5,445.4 809.4,441.6 811.3,436.5 813.1,431.5 815.0,427.5 816.9,426.2 818.2,427.1 820.1,430.2 822.6,432.8 825.1,434.6 827.6,432.8 830.2,432.1 832.7,434.0 835.2,438.4 837.7,442.2 839.6,444.1 841.5,442.8 843.4,443.5 845.9,443.7" fill="none" stroke="#e0600a" stroke-width="1.1" stroke-linejoin="round"/>
<text x="15" y="38.9" fill="#e6e6e6" stroke="#e6e6e6" stroke-width="0.3" font-size="10.2" text-anchor="start" font-weight="normal" textLength="45.5" lengthAdjust="spacingAndGlyphs">MemeCore</text>
<text x="65.6" y="39.199999999999996" fill="#cfcfcf" stroke="#cfcfcf" stroke-width="0.18" font-size="11" text-anchor="middle" font-weight="bold" textLength="6.4" lengthAdjust="spacingAndGlyphs">·</text>
<text x="70.75" y="38.9" fill="#e6e6e6" stroke="#e6e6e6" stroke-width="0.3" font-size="10.2" text-anchor="start" font-weight="normal" textLength="10.5" lengthAdjust="spacingAndGlyphs">30</text>
<text x="85.8" y="39.199999999999996" fill="#cfcfcf" stroke="#cfcfcf" stroke-width="0.18" font-size="11" text-anchor="middle" font-weight="bold" textLength="6.4" lengthAdjust="spacingAndGlyphs">·</text>
<text x="90.5" y="38.9" fill="#e6e6e6" stroke="#e6e6e6" stroke-width="0.3" font-size="10.2" text-anchor="start" font-weight="normal" textLength="32.75" lengthAdjust="spacingAndGlyphs">CRYPTO</text>
<text x="130.75" y="38.9" fill="#e6e6e6" stroke="#e6e6e6" stroke-width="0.3" font-size="10.2" text-anchor="start" font-weight="normal" textLength="6.2" lengthAdjust="spacingAndGlyphs">O</text><text x="137.6" y="38.9" fill="#26a69a" stroke="#26a69a" stroke-width="0.18" font-size="10.2" text-anchor="start" font-weight="normal" textLength="33.75" lengthAdjust="spacingAndGlyphs">0.86550</text>
<text x="177.8" y="38.9" fill="#e6e6e6" stroke="#e6e6e6" stroke-width="0.3" font-size="10.2" text-anchor="start" font-weight="normal" textLength="5.8" lengthAdjust="spacingAndGlyphs">H</text><text x="184.5" y="38.9" fill="#26a69a" stroke="#26a69a" stroke-width="0.18" font-size="10.2" text-anchor="start" font-weight="normal" textLength="33.75" lengthAdjust="spacingAndGlyphs">0.88370</text>
<text x="224.8" y="38.9" fill="#e6e6e6" stroke="#e6e6e6" stroke-width="0.3" font-size="10.2" text-anchor="start" font-weight="normal" textLength="4.4" lengthAdjust="spacingAndGlyphs">L</text><text x="229.7" y="38.9" fill="#26a69a" stroke="#26a69a" stroke-width="0.18" font-size="10.2" text-anchor="start" font-weight="normal" textLength="33.75" lengthAdjust="spacingAndGlyphs">0.86550</text>
<text x="270" y="38.9" fill="#e6e6e6" stroke="#e6e6e6" stroke-width="0.3" font-size="10.2" text-anchor="start" font-weight="normal" textLength="5.8" lengthAdjust="spacingAndGlyphs">C</text><text x="276.3" y="38.9" fill="#26a69a" stroke="#26a69a" stroke-width="0.18" font-size="10.2" text-anchor="start" font-weight="normal" textLength="33.75" lengthAdjust="spacingAndGlyphs">0.87447</text>
<text x="316.3" y="38.9" fill="#26a69a" stroke="#26a69a" stroke-width="0.18" font-size="10.2" text-anchor="start" font-weight="normal" textLength="79.5" lengthAdjust="spacingAndGlyphs">+0.00897 (+1.04%)</text>
<text x="15.1" y="324.9" fill="#e6e6e6" stroke="#e6e6e6" stroke-width="0.3" font-size="10.2" text-anchor="start" font-weight="normal" textLength="12.4" lengthAdjust="spacingAndGlyphs">RSI</text>
<text x="31.5" y="324.9" fill="#e6e6e6" stroke="#e6e6e6" stroke-width="0.3" font-size="10.2" text-anchor="start" font-weight="normal" textLength="16.1" lengthAdjust="spacingAndGlyphs">(14,</text>
<text x="51.6" y="324.9" fill="#e6e6e6" stroke="#e6e6e6" stroke-width="0.3" font-size="10.2" text-anchor="start" font-weight="normal" textLength="25.9" lengthAdjust="spacingAndGlyphs">close)</text>
<text x="83.75" y="324.9" fill="#7e57c2" stroke="#7e57c2" stroke-width="0.18" font-size="10.2" text-anchor="start" font-weight="normal" textLength="23.25" lengthAdjust="spacingAndGlyphs">55.91</text>
<text x="113.75" y="324.9" fill="#e6c232" stroke="#e6c232" stroke-width="0.18" font-size="10.2" text-anchor="start" font-weight="normal" textLength="24.25" lengthAdjust="spacingAndGlyphs">53.04</text>
<text x="14.75" y="404.9" fill="#e6e6e6" stroke="#e6e6e6" stroke-width="0.3" font-size="10.2" text-anchor="start" font-weight="normal" textLength="24.0" lengthAdjust="spacingAndGlyphs">MACD</text>
<text x="43.1" y="404.9" fill="#e6e6e6" stroke="#e6e6e6" stroke-width="0.3" font-size="10.2" text-anchor="start" font-weight="normal" textLength="15.6" lengthAdjust="spacingAndGlyphs">(12,</text>
<text x="63.5" y="404.9" fill="#e6e6e6" stroke="#e6e6e6" stroke-width="0.3" font-size="10.2" text-anchor="start" font-weight="normal" textLength="11.5" lengthAdjust="spacingAndGlyphs">26,</text>
<text x="80" y="404.9" fill="#e6e6e6" stroke="#e6e6e6" stroke-width="0.3" font-size="10.2" text-anchor="start" font-weight="normal" textLength="25.7" lengthAdjust="spacingAndGlyphs">close)</text>
<text x="111.75" y="404.9" fill="#26a69a" stroke="#26a69a" stroke-width="0.18" font-size="10.2" text-anchor="start" font-weight="normal" textLength="34.5" lengthAdjust="spacingAndGlyphs">0.00015</text>
<text x="152.5" y="404.9" fill="#2962ff" stroke="#2962ff" stroke-width="0.18" font-size="10.2" text-anchor="start" font-weight="normal" textLength="34.25" lengthAdjust="spacingAndGlyphs">0.00738</text>
<text x="193" y="404.9" fill="#e0600a" stroke="#e0600a" stroke-width="0.18" font-size="10.2" text-anchor="start" font-weight="normal" textLength="34.5" lengthAdjust="spacingAndGlyphs">0.00723</text>
<text x="972.6" y="70.9" fill="#e6e6e6" stroke="#e6e6e6" stroke-width="0.3" font-size="10.2" text-anchor="start" font-weight="normal" textLength="34.7" lengthAdjust="spacingAndGlyphs">1.20000</text>
<text x="972.6" y="103.0" fill="#e6e6e6" stroke="#e6e6e6" stroke-width="0.3" font-size="10.2" text-anchor="start" font-weight="normal" textLength="34.7" lengthAdjust="spacingAndGlyphs">1.00000</text>
<text x="972.6" y="141.70000000000002" fill="#e6e6e6" stroke="#e6e6e6" stroke-width="0.3" font-size="10.2" text-anchor="start" font-weight="normal" textLength="34.7" lengthAdjust="spacingAndGlyphs">0.80000</text>
<text x="972.6" y="177.4" fill="#e6e6e6" stroke="#e6e6e6" stroke-width="0.3" font-size="10.2" text-anchor="start" font-weight="normal" textLength="34.7" lengthAdjust="spacingAndGlyphs">0.65000</text>
<text x="972.6" y="206.1" fill="#e6e6e6" stroke="#e6e6e6" stroke-width="0.3" font-size="10.2" text-anchor="start" font-weight="normal" textLength="34.7" lengthAdjust="spacingAndGlyphs">0.55000</text>
<text x="972.6" y="241.1" fill="#e6e6e6" stroke="#e6e6e6" stroke-width="0.3" font-size="10.2" text-anchor="start" font-weight="normal" textLength="34.7" lengthAdjust="spacingAndGlyphs">0.45000</text>
<text x="972.6" y="266.09999999999997" fill="#e6e6e6" stroke="#e6e6e6" stroke-width="0.3" font-size="10.2" text-anchor="start" font-weight="normal" textLength="34.7" lengthAdjust="spacingAndGlyphs">0.39000</text>
<text x="972.6" y="295.09999999999997" fill="#e6e6e6" stroke="#e6e6e6" stroke-width="0.3" font-size="10.2" text-anchor="start" font-weight="normal" textLength="34.7" lengthAdjust="spacingAndGlyphs">0.33000</text>
<text x="972.2" y="334" fill="#e6e6e6" stroke="#e6e6e6" stroke-width="0.3" font-size="10.2" text-anchor="start" font-weight="normal" textLength="24.6" lengthAdjust="spacingAndGlyphs">80.00</text>
<text x="972.2" y="366.1" fill="#e6e6e6" stroke="#e6e6e6" stroke-width="0.3" font-size="10.2" text-anchor="start" font-weight="normal" textLength="24.6" lengthAdjust="spacingAndGlyphs">40.00</text>
<text x="972.6" y="405.0" fill="#e6e6e6" stroke="#e6e6e6" stroke-width="0.3" font-size="10.2" text-anchor="start" font-weight="normal" textLength="34.7" lengthAdjust="spacingAndGlyphs">0.10000</text>
<text x="972.6" y="449.79999999999995" fill="#e6e6e6" stroke="#e6e6e6" stroke-width="0.3" font-size="10.2" text-anchor="start" font-weight="normal" textLength="34.7" lengthAdjust="spacingAndGlyphs">0.00000</text>
<rect x="965.6" y="115.3" width="45.8" height="25.5" fill="#26a69a"/>
<text x="972.6" y="125.9" fill="#ffffff" stroke="#ffffff" stroke-width="0.18" font-size="10.2" text-anchor="start" font-weight="normal" textLength="34.7" lengthAdjust="spacingAndGlyphs">0.87447</text>
<text x="972.6" y="137.5" fill="#d4edeb" stroke="#d4edeb" stroke-width="0.18" font-size="10.2" text-anchor="start" font-weight="normal" textLength="23.5" lengthAdjust="spacingAndGlyphs">22:25</text>
<rect x="968.5" y="25.5" width="45" height="21" rx="3" fill="#0f0f0f" stroke="#2e2e2e"/>
<text x="975.6" y="39.4" fill="#e6e6e6" stroke="#e6e6e6" stroke-width="0.3" font-size="10.2" text-anchor="start" font-weight="normal" textLength="17.2" lengthAdjust="spacingAndGlyphs">USD</text>
<text x="39.4" y="482.6" fill="#e4e4e4" stroke="#e4e4e4" stroke-width="0.18" font-size="10.2" text-anchor="middle" font-weight="normal" style="stroke-width:0.35px">9</text>
<text x="104.2" y="482.6" fill="#e4e4e4" stroke="#e4e4e4" stroke-width="0.18" font-size="10.2" text-anchor="middle" font-weight="normal" style="stroke-width:0.35px">11</text>
<text x="169" y="482.6" fill="#e4e4e4" stroke="#e4e4e4" stroke-width="0.18" font-size="10.2" text-anchor="middle" font-weight="normal" style="stroke-width:0.35px">13</text>
<text x="234" y="482.6" fill="#e4e4e4" stroke="#e4e4e4" stroke-width="0.18" font-size="10.2" text-anchor="middle" font-weight="normal" style="stroke-width:0.35px">15</text>
<text x="299" y="482.6" fill="#e4e4e4" stroke="#e4e4e4" stroke-width="0.18" font-size="10.2" text-anchor="middle" font-weight="normal" style="stroke-width:0.35px">17</text>
<text x="364" y="482.6" fill="#e4e4e4" stroke="#e4e4e4" stroke-width="0.18" font-size="10.2" text-anchor="middle" font-weight="normal" style="stroke-width:0.35px">19</text>
<text x="428.7" y="482.6" fill="#e4e4e4" stroke="#e4e4e4" stroke-width="0.18" font-size="10.2" text-anchor="middle" font-weight="normal" style="stroke-width:0.35px">21</text>
<text x="493.6" y="482.6" fill="#e4e4e4" stroke="#e4e4e4" stroke-width="0.18" font-size="10.2" text-anchor="middle" font-weight="normal" style="stroke-width:0.35px">23</text>
<text x="558.5" y="482.6" fill="#e4e4e4" stroke="#e4e4e4" stroke-width="0.18" font-size="10.2" text-anchor="middle" font-weight="normal" style="stroke-width:0.35px">25</text>
<text x="623.2" y="482.6" fill="#e4e4e4" stroke="#e4e4e4" stroke-width="0.18" font-size="10.2" text-anchor="middle" font-weight="normal" style="stroke-width:0.35px">27</text>
<text x="688" y="482.6" fill="#e4e4e4" stroke="#e4e4e4" stroke-width="0.18" font-size="10.2" text-anchor="middle" font-weight="normal" style="stroke-width:0.35px">29</text>
<text x="785.6" y="482.6" fill="#e4e4e4" stroke="#e4e4e4" stroke-width="0.18" font-size="10.2" text-anchor="middle" font-weight="bold" style="stroke-width:0.35px">Sep</text>
<text x="850.5" y="482.6" fill="#e4e4e4" stroke="#e4e4e4" stroke-width="0.18" font-size="10.2" text-anchor="middle" font-weight="normal" style="stroke-width:0.35px">3</text>
<text x="915.2" y="482.6" fill="#e4e4e4" stroke="#e4e4e4" stroke-width="0.18" font-size="10.2" text-anchor="middle" font-weight="normal" style="stroke-width:0.35px">5</text>
<g transform="translate(9.9,509.1)" fill="#d4d4d4"><path d="M0 0H10V11.4H4.4V5.6H0Z"/><circle cx="13.6" cy="1.95" r="1.8"/><path d="M18.3 0H24.5L20.5 11.4H14.6Z"/></g>
<text x="41.2" y="520.5" fill="#d4d4d4" stroke="#d4d4d4" stroke-width="0.18" font-size="15.6" text-anchor="start" font-weight="normal" textLength="97.8" lengthAdjust="spacingAndGlyphs" style="stroke-width:0.7px">TradingView</text>
</svg></body></html>
